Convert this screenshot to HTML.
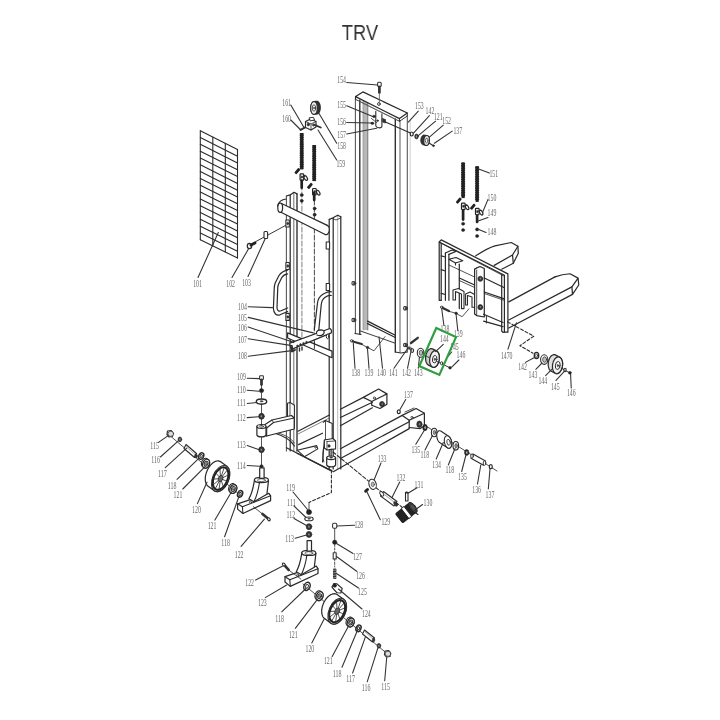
<!DOCTYPE html>
<html><head><meta charset="utf-8"><style>
html,body{margin:0;padding:0;background:#fff;}
body{width:720px;height:720px;overflow:hidden;position:relative;}
.t{position:absolute;left:0;top:21.4px;width:720px;text-align:center;font-family:"Liberation Sans",sans-serif;font-size:21.6px;line-height:24px;color:#333;transform:scaleX(0.845);transform-origin:360px 0;will-change:transform;}
svg{position:absolute;left:0;top:0;will-change:transform;}
svg text{font-family:"Liberation Serif",serif;font-size:10px;fill:#666;}
</style></head><body>
<div class="t">TRV</div>
<svg width="720" height="720" viewBox="0 0 720 720" stroke-linecap="round" stroke-linejoin="round">
<polyline points="200.3,130.7 237.5,149.5" fill="none" stroke="#2a2a2a" stroke-width="1.08"/>
<polyline points="200.3,137.5 237.5,156.3" fill="none" stroke="#2a2a2a" stroke-width="1.08"/>
<polyline points="200.3,144.3 237.5,163.1" fill="none" stroke="#2a2a2a" stroke-width="1.08"/>
<polyline points="200.3,151.2 237.5,169.8" fill="none" stroke="#2a2a2a" stroke-width="1.08"/>
<polyline points="200.3,158.0 237.5,176.6" fill="none" stroke="#2a2a2a" stroke-width="1.08"/>
<polyline points="200.3,164.8 237.5,183.4" fill="none" stroke="#2a2a2a" stroke-width="1.08"/>
<polyline points="200.3,171.6 237.5,190.2" fill="none" stroke="#2a2a2a" stroke-width="1.08"/>
<polyline points="200.3,178.4 237.5,197.0" fill="none" stroke="#2a2a2a" stroke-width="1.08"/>
<polyline points="200.3,185.2 237.5,203.8" fill="none" stroke="#2a2a2a" stroke-width="1.08"/>
<polyline points="200.3,192.1 237.5,210.5" fill="none" stroke="#2a2a2a" stroke-width="1.08"/>
<polyline points="200.3,198.9 237.5,217.3" fill="none" stroke="#2a2a2a" stroke-width="1.08"/>
<polyline points="200.3,205.7 237.5,224.1" fill="none" stroke="#2a2a2a" stroke-width="1.08"/>
<polyline points="200.3,212.5 237.5,230.9" fill="none" stroke="#2a2a2a" stroke-width="1.08"/>
<polyline points="200.3,219.3 237.5,237.7" fill="none" stroke="#2a2a2a" stroke-width="1.08"/>
<polyline points="200.3,226.2 237.5,244.4" fill="none" stroke="#2a2a2a" stroke-width="1.08"/>
<polyline points="200.3,233.0 237.5,251.2" fill="none" stroke="#2a2a2a" stroke-width="1.08"/>
<polyline points="200.3,239.8 237.5,258.0" fill="none" stroke="#2a2a2a" stroke-width="1.08"/>
<polyline points="200.3,130.7 200.3,239.8" fill="none" stroke="#2a2a2a" stroke-width="1.08"/>
<polyline points="212.8,137.0 212.8,245.9" fill="none" stroke="#2a2a2a" stroke-width="1.08"/>
<polyline points="225.3,143.3 225.3,252.0" fill="none" stroke="#2a2a2a" stroke-width="1.08"/>
<polyline points="237.5,149.5 237.5,258.0" fill="none" stroke="#2a2a2a" stroke-width="1.08"/>
<text x="193.2" y="287.1" textLength="8.7" lengthAdjust="spacingAndGlyphs">101</text>
<polyline points="198.0,277.5 218.3,232.5" fill="none" stroke="#333" stroke-width="1.08"/>
<text x="226.3" y="287.4" textLength="8.7" lengthAdjust="spacingAndGlyphs">102</text>
<polyline points="232.0,277.5 249.0,248.0" fill="none" stroke="#333" stroke-width="1.08"/>
<text x="242.2" y="286.4" textLength="8.7" lengthAdjust="spacingAndGlyphs">103</text>
<polyline points="248.0,276.5 265.5,238.0" fill="none" stroke="#333" stroke-width="1.08"/>
<polyline points="252.8,243.2 287.5,224.4" fill="none" stroke="#2a2a2a" stroke-width="0.94"/>
<ellipse cx="249.5" cy="246" rx="2.2" ry="2.6" fill="#fff" stroke="#2a2a2a" stroke-width="1.22"/>
<polyline points="251.0,245.0 255.0,243.0" fill="none" stroke="#222" stroke-width="2.97"/>
<rect x="264" y="231.5" width="3.6" height="7" rx="1" fill="#fff" stroke="#2a2a2a" stroke-width="1.08"/>
<polyline points="286.4,196.0 286.4,451.0" fill="none" stroke="#555" stroke-width="1.08"/>
<polyline points="290.2,195.0 290.2,451.0" fill="none" stroke="#2a2a2a" stroke-width="1.22"/>
<polyline points="293.8,193.5 293.8,451.0" fill="none" stroke="#777" stroke-width="1.08"/>
<polyline points="297.0,194.0 297.0,451.0" fill="none" stroke="#2a2a2a" stroke-width="1.35"/>
<polyline points="286.4,196.0 290.2,194.9 294.0,192.3 297.0,193.9" fill="none" stroke="#2a2a2a" stroke-width="1.22"/>
<polyline points="329.2,219.4 329.2,469.0" fill="none" stroke="#2a2a2a" stroke-width="1.22"/>
<polyline points="333.2,218.5 333.2,469.0" fill="none" stroke="#2a2a2a" stroke-width="1.22"/>
<polyline points="337.7,215.5 337.7,469.0" fill="none" stroke="#aaa" stroke-width="0.81"/>
<polyline points="340.8,216.8 340.8,469.0" fill="none" stroke="#2a2a2a" stroke-width="1.22"/>
<polyline points="329.4,219.4 333.0,217.8 337.7,215.2 340.8,216.8" fill="none" stroke="#2a2a2a" stroke-width="1.22"/>
<polyline points="332.4,218.5 336.0,220.0 340.8,218.0" fill="none" stroke="#2a2a2a" stroke-width="0.81"/>
<polyline points="301.9,185.0 301.9,340.0" fill="none" stroke="#888" stroke-width="1.08" stroke-dasharray="5,2"/>
<polyline points="314.4,200.0 314.4,345.0" fill="none" stroke="#555" stroke-width="1.08" stroke-dasharray="5,2"/>
<path d="M282,203.75 L326.8,225.1 A3.2,4.8 0 0 1 325.2,234.5 L280.4,212 Z" fill="#fff" stroke="#2a2a2a" stroke-width="0.00"/>
<polyline points="282.0,203.8 326.8,225.1" fill="none" stroke="#2a2a2a" stroke-width="1.22"/>
<polyline points="280.4,212.0 325.2,234.5" fill="none" stroke="#2a2a2a" stroke-width="1.22"/>
<path d="M326.8,225.1 A3.2,4.8 0 0 1 325.2,234.5" fill="none" stroke="#2a2a2a" stroke-width="1.22"/>
<ellipse cx="280.2" cy="207.8" rx="2.4" ry="4.6" fill="#fff" stroke="#2a2a2a" stroke-width="1.22"/>
<path d="M277.5,206 C278.5,202 282,199.5 286.1,199" fill="none" stroke="#2a2a2a" stroke-width="1.08"/>
<rect x="285.9" y="220.0" width="3.4" height="7" fill="#fff" stroke="#2a2a2a" stroke-width="1.08"/>
<ellipse cx="287.7" cy="223.5" rx="0.9" ry="1.2" fill="#444" stroke="#2a2a2a" stroke-width="0.68"/>
<rect x="285.9" y="262.5" width="3.4" height="7" fill="#fff" stroke="#2a2a2a" stroke-width="1.08"/>
<ellipse cx="287.7" cy="266" rx="0.9" ry="1.2" fill="#444" stroke="#2a2a2a" stroke-width="0.68"/>
<rect x="285.9" y="313.4" width="3.4" height="7" fill="#fff" stroke="#2a2a2a" stroke-width="1.08"/>
<ellipse cx="287.7" cy="316.9" rx="0.9" ry="1.2" fill="#444" stroke="#2a2a2a" stroke-width="0.68"/>
<rect x="326.2" y="242.0" width="3.4" height="7" fill="#fff" stroke="#2a2a2a" stroke-width="1.08"/>
<rect x="326.2" y="283.5" width="3.4" height="7" fill="#fff" stroke="#2a2a2a" stroke-width="1.08"/>
<path d="M287.6,270.2 C284,270.8 281,272.5 279,275.5 L275.2,283 C274.5,285 274.2,287 274.2,289 L273.4,308.5 C273.6,313.5 276.5,316 280,314.8 L287.6,311.5" fill="none" stroke="#2a2a2a" stroke-width="1.22"/>
<path d="M287.6,273.8 C285,274.2 283,275.5 281.8,277.5 L278.4,284.5 C277.9,286 277.7,287.5 277.7,289 L277,308 C277.2,310.5 278.8,311.6 281,310.8 L287.6,308" fill="none" stroke="#2a2a2a" stroke-width="1.22"/>
<path d="M331.3,291.8 C329,291 325,293 322.5,294.5 C319.5,296.5 318,299 317.5,303 L314.3,329.5" fill="none" stroke="#2a2a2a" stroke-width="1.22"/>
<path d="M331.3,295.5 C329,295 326.5,296.3 324.8,297.5 C322.8,299 321.5,301.5 321.2,305 L318.8,330" fill="none" stroke="#2a2a2a" stroke-width="1.22"/>
<path d="M287.6,332.9 L332,351.1 L332,357.7 L287.6,338 Z" fill="#fff" stroke="#2a2a2a" stroke-width="1.22"/>
<polyline points="314.4,342.0 314.4,348.5" fill="none" stroke="#2a2a2a" stroke-width="0.94"/>
<path d="M289.8,343.1 L329.9,328.5 C331.5,329.5 331.8,331.5 331.3,332.9 L292.7,348.9 C291,348.5 289.5,346 289.8,343.1 Z" fill="#fff" stroke="#2a2a2a" stroke-width="1.15"/>
<path d="M316.5,333.5 C316,331 318.5,329.8 321,329.8 C324,330 325,332 323.5,334 C322,335.5 319,336 317,335" fill="#fff" stroke="#2a2a2a" stroke-width="1.22"/>
<ellipse cx="327.6" cy="336.5" rx="1.3" ry="2.2" fill="#fff" stroke="#2a2a2a" stroke-width="0.94"/>
<ellipse cx="297.5" cy="345.8" rx="0.9" ry="0.9" fill="#333" stroke="#2a2a2a" stroke-width="0.54"/>
<ellipse cx="300.5" cy="344.5" rx="0.9" ry="0.9" fill="#333" stroke="#2a2a2a" stroke-width="0.54"/>
<ellipse cx="303.5" cy="343.3" rx="0.9" ry="0.9" fill="#333" stroke="#2a2a2a" stroke-width="0.54"/>
<ellipse cx="306.5" cy="342.2" rx="0.9" ry="0.9" fill="#333" stroke="#2a2a2a" stroke-width="0.54"/>
<polyline points="292.0,346.5 292.0,351.5 295.0,350.0" fill="none" stroke="#2a2a2a" stroke-width="1.89"/>
<polyline points="299.5,348.0 299.5,351.0" fill="none" stroke="#2a2a2a" stroke-width="1.35"/>
<polyline points="302.0,347.0 302.0,350.0" fill="none" stroke="#2a2a2a" stroke-width="1.35"/>
<text x="238.1" y="310.1" textLength="8.7" lengthAdjust="spacingAndGlyphs">104</text>
<polyline points="248.2,306.7 272.5,307.6" fill="none" stroke="#333" stroke-width="1.08"/>
<text x="238.1" y="320.8" textLength="8.7" lengthAdjust="spacingAndGlyphs">105</text>
<polyline points="248.2,317.4 313.3,332.9" fill="none" stroke="#333" stroke-width="1.08"/>
<text x="238.1" y="331.4" textLength="8.7" lengthAdjust="spacingAndGlyphs">106</text>
<polyline points="248.2,327.0 293.9,342.6" fill="none" stroke="#333" stroke-width="1.08"/>
<text x="238.1" y="343.1" textLength="8.7" lengthAdjust="spacingAndGlyphs">107</text>
<polyline points="248.2,338.7 292.0,345.6" fill="none" stroke="#333" stroke-width="1.08"/>
<text x="238.1" y="358.7" textLength="8.7" lengthAdjust="spacingAndGlyphs">108</text>
<polyline points="248.2,356.2 293.9,350.4" fill="none" stroke="#333" stroke-width="1.08"/>
<rect x="300.2" y="133" width="3.1" height="36.400000000000006" fill="#1e1e1e"/>
<ellipse cx="301.7" cy="133.9" rx="2.2" ry="0.95" fill="#222" stroke="#222" stroke-width="0.00"/>
<ellipse cx="301.7" cy="135.70000000000002" rx="2.2" ry="0.95" fill="#222" stroke="#222" stroke-width="0.00"/>
<ellipse cx="301.7" cy="137.50000000000003" rx="2.2" ry="0.95" fill="#222" stroke="#222" stroke-width="0.00"/>
<ellipse cx="301.7" cy="139.30000000000004" rx="2.2" ry="0.95" fill="#222" stroke="#222" stroke-width="0.00"/>
<ellipse cx="301.7" cy="141.10000000000005" rx="2.2" ry="0.95" fill="#222" stroke="#222" stroke-width="0.00"/>
<ellipse cx="301.7" cy="142.90000000000006" rx="2.2" ry="0.95" fill="#222" stroke="#222" stroke-width="0.00"/>
<ellipse cx="301.7" cy="144.70000000000007" rx="2.2" ry="0.95" fill="#222" stroke="#222" stroke-width="0.00"/>
<ellipse cx="301.7" cy="146.50000000000009" rx="2.2" ry="0.95" fill="#222" stroke="#222" stroke-width="0.00"/>
<ellipse cx="301.7" cy="148.3000000000001" rx="2.2" ry="0.95" fill="#222" stroke="#222" stroke-width="0.00"/>
<ellipse cx="301.7" cy="150.1000000000001" rx="2.2" ry="0.95" fill="#222" stroke="#222" stroke-width="0.00"/>
<ellipse cx="301.7" cy="151.90000000000012" rx="2.2" ry="0.95" fill="#222" stroke="#222" stroke-width="0.00"/>
<ellipse cx="301.7" cy="153.70000000000013" rx="2.2" ry="0.95" fill="#222" stroke="#222" stroke-width="0.00"/>
<ellipse cx="301.7" cy="155.50000000000014" rx="2.2" ry="0.95" fill="#222" stroke="#222" stroke-width="0.00"/>
<ellipse cx="301.7" cy="157.30000000000015" rx="2.2" ry="0.95" fill="#222" stroke="#222" stroke-width="0.00"/>
<ellipse cx="301.7" cy="159.10000000000016" rx="2.2" ry="0.95" fill="#222" stroke="#222" stroke-width="0.00"/>
<ellipse cx="301.7" cy="160.90000000000018" rx="2.2" ry="0.95" fill="#222" stroke="#222" stroke-width="0.00"/>
<ellipse cx="301.7" cy="162.7000000000002" rx="2.2" ry="0.95" fill="#222" stroke="#222" stroke-width="0.00"/>
<ellipse cx="301.7" cy="164.5000000000002" rx="2.2" ry="0.95" fill="#222" stroke="#222" stroke-width="0.00"/>
<ellipse cx="301.7" cy="166.3000000000002" rx="2.2" ry="0.95" fill="#222" stroke="#222" stroke-width="0.00"/>
<ellipse cx="301.7" cy="168.10000000000022" rx="2.2" ry="0.95" fill="#222" stroke="#222" stroke-width="0.00"/>
<rect x="312.7" y="145" width="3.1" height="36.099999999999994" fill="#1e1e1e"/>
<ellipse cx="314.2" cy="145.9" rx="2.2" ry="0.95" fill="#222" stroke="#222" stroke-width="0.00"/>
<ellipse cx="314.2" cy="147.70000000000002" rx="2.2" ry="0.95" fill="#222" stroke="#222" stroke-width="0.00"/>
<ellipse cx="314.2" cy="149.50000000000003" rx="2.2" ry="0.95" fill="#222" stroke="#222" stroke-width="0.00"/>
<ellipse cx="314.2" cy="151.30000000000004" rx="2.2" ry="0.95" fill="#222" stroke="#222" stroke-width="0.00"/>
<ellipse cx="314.2" cy="153.10000000000005" rx="2.2" ry="0.95" fill="#222" stroke="#222" stroke-width="0.00"/>
<ellipse cx="314.2" cy="154.90000000000006" rx="2.2" ry="0.95" fill="#222" stroke="#222" stroke-width="0.00"/>
<ellipse cx="314.2" cy="156.70000000000007" rx="2.2" ry="0.95" fill="#222" stroke="#222" stroke-width="0.00"/>
<ellipse cx="314.2" cy="158.50000000000009" rx="2.2" ry="0.95" fill="#222" stroke="#222" stroke-width="0.00"/>
<ellipse cx="314.2" cy="160.3000000000001" rx="2.2" ry="0.95" fill="#222" stroke="#222" stroke-width="0.00"/>
<ellipse cx="314.2" cy="162.1000000000001" rx="2.2" ry="0.95" fill="#222" stroke="#222" stroke-width="0.00"/>
<ellipse cx="314.2" cy="163.90000000000012" rx="2.2" ry="0.95" fill="#222" stroke="#222" stroke-width="0.00"/>
<ellipse cx="314.2" cy="165.70000000000013" rx="2.2" ry="0.95" fill="#222" stroke="#222" stroke-width="0.00"/>
<ellipse cx="314.2" cy="167.50000000000014" rx="2.2" ry="0.95" fill="#222" stroke="#222" stroke-width="0.00"/>
<ellipse cx="314.2" cy="169.30000000000015" rx="2.2" ry="0.95" fill="#222" stroke="#222" stroke-width="0.00"/>
<ellipse cx="314.2" cy="171.10000000000016" rx="2.2" ry="0.95" fill="#222" stroke="#222" stroke-width="0.00"/>
<ellipse cx="314.2" cy="172.90000000000018" rx="2.2" ry="0.95" fill="#222" stroke="#222" stroke-width="0.00"/>
<ellipse cx="314.2" cy="174.7000000000002" rx="2.2" ry="0.95" fill="#222" stroke="#222" stroke-width="0.00"/>
<ellipse cx="314.2" cy="176.5000000000002" rx="2.2" ry="0.95" fill="#222" stroke="#222" stroke-width="0.00"/>
<ellipse cx="314.2" cy="178.3000000000002" rx="2.2" ry="0.95" fill="#222" stroke="#222" stroke-width="0.00"/>
<ellipse cx="314.2" cy="180.10000000000022" rx="2.2" ry="0.95" fill="#222" stroke="#222" stroke-width="0.00"/>
<g transform="translate(297.4,171.1) rotate(-50)"><rect x="-3.2" y="-1.4" width="6.4" height="2.8" rx="0.8" fill="#222"/></g>
<rect x="300.1" y="173.8" width="3.6" height="6.5" rx="0.8" fill="#fff" stroke="#222" stroke-width="1.22"/>
<ellipse cx="301.9" cy="177.0" rx="0.8" ry="1.3" fill="#333" stroke="#2a2a2a" stroke-width="0.41"/>
<ellipse cx="305.7" cy="178.0" rx="1.4" ry="2.6" fill="#fff" stroke="#2a2a2a" stroke-width="1.22" transform="rotate(-30 305.7 178.0)"/>
<polyline points="303.7,176.3 305.2,175.8" fill="none" stroke="#2a2a2a" stroke-width="1.22"/>
<polyline points="301.7,180.6 301.7,187.8" fill="none" stroke="#222" stroke-width="2.70"/>
<g transform="translate(309.9,185.9) rotate(-50)"><rect x="-3.2" y="-1.4" width="6.4" height="2.8" rx="0.8" fill="#222"/></g>
<rect x="312.6" y="188.5" width="3.6" height="6.5" rx="0.8" fill="#fff" stroke="#222" stroke-width="1.22"/>
<ellipse cx="314.4" cy="191.7" rx="0.8" ry="1.3" fill="#333" stroke="#2a2a2a" stroke-width="0.41"/>
<ellipse cx="318.2" cy="192.7" rx="1.4" ry="2.6" fill="#fff" stroke="#2a2a2a" stroke-width="1.22" transform="rotate(-30 318.2 192.7)"/>
<polyline points="316.2,191.0 317.7,190.5" fill="none" stroke="#2a2a2a" stroke-width="1.22"/>
<polyline points="314.2,193.1 314.2,200.1" fill="none" stroke="#222" stroke-width="2.70"/>
<ellipse cx="301.7" cy="195" rx="1.6" ry="1.6" fill="#222" stroke="#2a2a2a" stroke-width="0.41"/>
<ellipse cx="301.7" cy="200.8" rx="1.6" ry="1.6" fill="#222" stroke="#2a2a2a" stroke-width="0.41"/>
<ellipse cx="314.6" cy="208.5" rx="1.6" ry="1.6" fill="#222" stroke="#2a2a2a" stroke-width="0.41"/>
<ellipse cx="314.6" cy="214.7" rx="1.6" ry="1.6" fill="#222" stroke="#2a2a2a" stroke-width="0.41"/>
<text x="282.3" y="105.9" textLength="8.7" lengthAdjust="spacingAndGlyphs">161</text>
<polyline points="290.8,105.0 304.0,127.5" fill="none" stroke="#333" stroke-width="1.08"/>
<text x="282.3" y="122.4" textLength="8.7" lengthAdjust="spacingAndGlyphs">160</text>
<polyline points="290.8,120.0 300.8,130.0" fill="none" stroke="#333" stroke-width="1.08"/>
<text x="337.3" y="149.2" textLength="8.7" lengthAdjust="spacingAndGlyphs">158</text>
<polyline points="336.7,143.3 318.0,111.7" fill="none" stroke="#333" stroke-width="1.08"/>
<text x="336.4" y="167.4" textLength="8.7" lengthAdjust="spacingAndGlyphs">159</text>
<polyline points="336.7,160.0 318.0,130.0" fill="none" stroke="#333" stroke-width="1.08"/>
<polygon points="310.7,108.0 310.7,107.5 310.8,106.9 310.8,106.4 310.9,105.8 311.0,105.3 311.1,104.8 311.3,104.4 311.5,104.0 311.7,103.5 311.9,103.2 312.1,102.8 312.4,102.5 312.6,102.3 312.9,102.1 313.1,101.9 313.4,101.8 313.7,101.7 316.6,101.3 316.9,101.3 317.2,101.3 317.5,101.4 317.8,101.5 318.0,101.7 318.3,101.9 318.5,102.1 318.8,102.4 319.0,102.8 319.2,103.1 319.4,103.6 319.6,104.0 319.8,104.5 319.9,104.9 320.0,105.4 320.1,106.0 320.1,106.5 320.2,107.1 320.2,107.6 320.2,108.1 320.1,108.7 320.1,109.2 320.0,109.8 319.9,110.3 319.8,110.8 319.6,111.2 319.4,111.6 319.2,112.1 319.0,112.4 318.8,112.8 318.5,113.1 318.3,113.3 318.0,113.5 317.8,113.7 317.5,113.8 317.2,113.9 314.3,114.3 314.0,114.3 313.7,114.3 313.4,114.2 313.1,114.1 312.9,113.9 312.6,113.7 312.4,113.5 312.1,113.2 311.9,112.8 311.7,112.5 311.5,112.0 311.3,111.6 311.1,111.2 311.0,110.7 310.9,110.2 310.8,109.6 310.8,109.1 310.7,108.5" fill="#333" stroke="#2a2a2a" stroke-width="1.22"/>
<ellipse cx="314" cy="108" rx="3.3" ry="6.3" fill="#f0f0f0" stroke="#2a2a2a" stroke-width="1.08"/>
<ellipse cx="314" cy="108" rx="1.7" ry="3.2" fill="#fff" stroke="#2a2a2a" stroke-width="0.81"/>
<ellipse cx="314" cy="108" rx="0.6" ry="1.0" fill="#888" stroke="#2a2a2a" stroke-width="0.41"/>
<path d="M305.5,121.5 L310.5,119 L316,121.5 L316,127 L311,130 L305.5,127.5 Z" fill="#fff" stroke="#2a2a2a" stroke-width="1.15"/>
<path d="M305.5,121.5 L311,124 L316,121.5 M311,124 L311,130" fill="none" stroke="#2a2a2a" stroke-width="0.81"/>
<path d="M309.5,117.8 L313.5,117.3 L314.5,120 L310.5,120.8 Z" fill="#fff" stroke="#2a2a2a" stroke-width="0.94"/>
<ellipse cx="308.3" cy="124.5" rx="1.3" ry="1.6" fill="#333" stroke="#2a2a2a" stroke-width="0.41"/>
<ellipse cx="313.5" cy="125" rx="1.1" ry="1.3" fill="#555" stroke="#2a2a2a" stroke-width="0.41"/>
<polyline points="314.5,124.8 320.8,127.5" fill="none" stroke="#333" stroke-width="1.89"/>
<polyline points="300.5,129.8 305.2,127.3" fill="none" stroke="#333" stroke-width="1.89"/>
<polyline points="355.4,97.0 355.4,333.5" fill="none" stroke="#555" stroke-width="1.08"/>
<polyline points="359.8,100.0 359.8,334.0" fill="none" stroke="#2a2a2a" stroke-width="1.35"/>
<rect x="363" y="101" width="5" height="229" fill="#b8b8b8"/>
<polyline points="363.0,101.0 363.0,330.0" fill="none" stroke="#888" stroke-width="0.68"/>
<polyline points="367.8,101.0 367.8,330.0" fill="none" stroke="#777" stroke-width="0.94"/>
<polyline points="355.0,333.5 361.0,334.5" fill="none" stroke="#2a2a2a" stroke-width="1.22"/>
<polyline points="395.3,119.0 395.3,352.0" fill="none" stroke="#2a2a2a" stroke-width="1.35"/>
<polyline points="400.0,120.7 400.0,352.0" fill="none" stroke="#666" stroke-width="1.08"/>
<polyline points="407.3,115.6 407.3,352.0" fill="none" stroke="#555" stroke-width="1.08"/>
<polyline points="410.2,120.0 410.2,350.0" fill="none" stroke="#bbb" stroke-width="0.68"/>
<polyline points="395.3,352.0 401.0,353.0 407.0,352.0" fill="none" stroke="#2a2a2a" stroke-width="1.22"/>
<path d="M355.6,96.6 L362.9,91.9 L407.3,113 L399.5,118.6 Z" fill="#fff" stroke="#2a2a2a" stroke-width="1.22"/>
<polyline points="355.6,96.6 355.6,99.4 399.5,121.3 407.3,116.0 407.3,113.0" fill="none" stroke="#2a2a2a" stroke-width="0.94"/>
<polyline points="399.5,118.6 399.5,121.3" fill="none" stroke="#2a2a2a" stroke-width="0.94"/>
<polyline points="359.5,101.3 395.5,119.3" fill="none" stroke="#777" stroke-width="0.68"/>
<ellipse cx="378.9" cy="104" rx="1.3" ry="1.5" fill="#fff" stroke="#2a2a2a" stroke-width="0.94"/>
<polyline points="367.6,321.1 395.3,335.3" fill="none" stroke="#2a2a2a" stroke-width="1.22"/>
<polyline points="367.6,323.6 395.3,337.5" fill="none" stroke="#2a2a2a" stroke-width="1.22"/>
<polyline points="360.5,331.0 395.3,343.2" fill="none" stroke="#444" stroke-width="1.08"/>
<ellipse cx="353.3" cy="283.3" rx="1.4" ry="1.8" fill="#fff" stroke="#2a2a2a" stroke-width="1.08"/>
<ellipse cx="354.7" cy="283.3" rx="1.2" ry="1.6" fill="#444" stroke="#2a2a2a" stroke-width="0.54"/>
<ellipse cx="353.3" cy="320" rx="1.4" ry="1.8" fill="#fff" stroke="#2a2a2a" stroke-width="1.08"/>
<ellipse cx="354.7" cy="320" rx="1.2" ry="1.6" fill="#444" stroke="#2a2a2a" stroke-width="0.54"/>
<ellipse cx="405" cy="308.3" rx="1.4" ry="1.8" fill="#fff" stroke="#2a2a2a" stroke-width="1.08"/>
<ellipse cx="406.4" cy="308.3" rx="1.2" ry="1.6" fill="#444" stroke="#2a2a2a" stroke-width="0.54"/>
<ellipse cx="405" cy="345" rx="1.4" ry="1.8" fill="#fff" stroke="#2a2a2a" stroke-width="1.08"/>
<ellipse cx="406.4" cy="345" rx="1.2" ry="1.6" fill="#444" stroke="#2a2a2a" stroke-width="0.54"/>
<text x="337.3" y="83.4" textLength="8.7" lengthAdjust="spacingAndGlyphs">154</text>
<polyline points="346.7,82.5 377.5,85.0" fill="none" stroke="#333" stroke-width="1.08"/>
<rect x="377.6" y="82.3" width="3.6" height="4.2" rx="1" fill="#fff" stroke="#333" stroke-width="1.08"/>
<polyline points="379.4,86.8 379.4,92.5" fill="none" stroke="#333" stroke-width="2.70"/>
<polyline points="379.4,93.5 379.4,102.0" fill="none" stroke="#555" stroke-width="0.81"/>
<text x="337.3" y="108.4" textLength="8.7" lengthAdjust="spacingAndGlyphs">155</text>
<polyline points="346.7,105.8 373.3,116.7" fill="none" stroke="#333" stroke-width="1.08"/>
<text x="337.3" y="125.1" textLength="8.7" lengthAdjust="spacingAndGlyphs">156</text>
<polyline points="346.7,122.5 371.7,123.0" fill="none" stroke="#333" stroke-width="1.08"/>
<text x="337.3" y="138.4" textLength="8.7" lengthAdjust="spacingAndGlyphs">157</text>
<polyline points="346.7,134.0 376.7,128.3" fill="none" stroke="#333" stroke-width="1.08"/>
<path d="M375.8,111.3 L375.8,125.9 C376.5,128 381,128.5 381.9,126.8 L381.9,113.8" fill="#fff" stroke="#2a2a2a" stroke-width="1.08"/>
<ellipse cx="374.1" cy="116.4" rx="1.5" ry="1.2" fill="#222" stroke="#2a2a2a" stroke-width="0.41"/>
<ellipse cx="372.4" cy="123.3" rx="1.5" ry="1.2" fill="#222" stroke="#2a2a2a" stroke-width="0.41"/>
<ellipse cx="377.6" cy="120.7" rx="0.9" ry="0.9" fill="#333" stroke="#2a2a2a" stroke-width="0.41"/>
<polyline points="371.5,118.5 376.5,122.5" fill="none" stroke="#2a2a2a" stroke-width="0.81"/>
<path d="M382.5,118.5 L385.5,119.5 L385.5,123 L382.5,122 Z" fill="#333" stroke="#2a2a2a" stroke-width="0.68"/>
<polyline points="385.5,122.0 411.5,133.5" fill="none" stroke="#2a2a2a" stroke-width="1.08"/>
<text x="415.0" y="109.0" textLength="8.7" lengthAdjust="spacingAndGlyphs">153</text>
<polyline points="418.3,111.2 408.3,122.2" fill="none" stroke="#333" stroke-width="1.08"/>
<text x="425.6" y="114.0" textLength="8.7" lengthAdjust="spacingAndGlyphs">142</text>
<polyline points="429.4,115.6 413.3,133.3" fill="none" stroke="#333" stroke-width="1.08"/>
<text x="433.9" y="120.1" textLength="8.7" lengthAdjust="spacingAndGlyphs">121</text>
<polyline points="435.6,121.2 418.3,135.6" fill="none" stroke="#333" stroke-width="1.08"/>
<text x="442.3" y="124.0" textLength="8.7" lengthAdjust="spacingAndGlyphs">152</text>
<polyline points="443.3,125.2 429.4,137.2" fill="none" stroke="#333" stroke-width="1.08"/>
<ellipse cx="411.7" cy="134" rx="1.5" ry="2.0" fill="#fff" stroke="#2a2a2a" stroke-width="1.22"/>
<ellipse cx="416.5" cy="136.5" rx="1.8" ry="2.4" fill="#333" stroke="#2a2a2a" stroke-width="0.68"/>
<ellipse cx="416.5" cy="136.5" rx="0.8" ry="1.2" fill="#ccc" stroke="#2a2a2a" stroke-width="0.41"/>
<polygon points="420.8,140.5 420.8,140.1 420.8,139.7 420.9,139.2 420.9,138.8 421.0,138.4 421.1,138.0 421.3,137.6 421.4,137.2 421.6,136.8 421.7,136.5 421.9,136.2 422.1,135.9 422.4,135.7 422.6,135.5 422.8,135.3 423.1,135.1 423.3,135.0 423.5,135.0 423.8,134.9 424.0,134.9 424.3,135.0 427.3,135.6 427.5,135.6 427.7,135.8 428.0,135.9 428.2,136.1 428.4,136.3 428.6,136.6 428.7,136.8 428.9,137.2 429.0,137.5 429.1,137.8 429.2,138.2 429.3,138.6 429.4,139.0 429.4,139.4 429.4,139.9 429.4,140.3 429.4,140.7 429.3,141.2 429.3,141.6 429.2,142.0 429.1,142.4 428.9,142.8 428.8,143.2 428.6,143.6 428.5,143.9 428.3,144.2 428.1,144.5 427.8,144.7 427.6,144.9 427.4,145.1 427.1,145.3 426.9,145.4 426.7,145.4 426.4,145.5 426.2,145.5 425.9,145.4 422.9,144.8 422.7,144.8 422.5,144.6 422.2,144.5 422.0,144.3 421.8,144.1 421.6,143.8 421.5,143.6 421.3,143.2 421.2,142.9 421.1,142.6 421.0,142.2 420.9,141.8 420.8,141.4 420.8,141.0" fill="#333" stroke="#2a2a2a" stroke-width="0.81"/>
<ellipse cx="426.6" cy="140.5" rx="2.8" ry="5.0" fill="#ddd" stroke="#2a2a2a" stroke-width="1.08" transform="rotate(5 426.6 140.5)"/>
<ellipse cx="426.7" cy="140.6" rx="1.3" ry="2.3" fill="#fff" stroke="#2a2a2a" stroke-width="0.68" transform="rotate(5 426.7 140.6)"/>
<polyline points="429.0,143.0 433.0,145.5" fill="none" stroke="#2a2a2a" stroke-width="1.08"/>
<ellipse cx="433.5" cy="145.7" rx="1.0" ry="1.0" fill="#222" stroke="#2a2a2a" stroke-width="0.41"/>
<text x="453.4" y="134.0" textLength="8.7" lengthAdjust="spacingAndGlyphs">137</text>
<polyline points="452.2,131.1 434.4,143.3" fill="none" stroke="#333" stroke-width="1.08"/>
<path d="M439.2,242 L441.25,239.9 L507.9,273.9 L507.9,332.2 L504.4,332.2 L504.4,275.3 L439.2,242 Z" fill="#fff" stroke="#2a2a2a" stroke-width="1.22"/>
<polyline points="439.2,242.0 439.2,300.3 441.2,300.3" fill="none" stroke="#2a2a2a" stroke-width="1.22"/>
<polyline points="441.2,243.3 441.2,300.3" fill="none" stroke="#2a2a2a" stroke-width="1.22"/>
<polyline points="441.2,243.3 504.4,276.3" fill="none" stroke="#2a2a2a" stroke-width="0.81"/>
<polyline points="445.4,253.0 445.4,300.3" fill="none" stroke="#2a2a2a" stroke-width="1.22"/>
<polyline points="448.9,254.4 448.9,300.3" fill="none" stroke="#2a2a2a" stroke-width="1.22"/>
<polyline points="445.4,253.0 452.0,250.0 455.8,251.5 448.9,254.4" fill="none" stroke="#2a2a2a" stroke-width="1.22"/>
<polyline points="441.2,255.8 445.4,257.0" fill="none" stroke="#2a2a2a" stroke-width="1.22"/>
<polyline points="441.2,269.7 445.4,271.0" fill="none" stroke="#2a2a2a" stroke-width="1.22"/>
<polyline points="441.2,293.3 445.4,294.5" fill="none" stroke="#2a2a2a" stroke-width="1.22"/>
<path d="M448.9,259.3 L456,257.5 L462.8,260.8 L455.5,263 Z" fill="#fff" stroke="#2a2a2a" stroke-width="1.08"/>
<polyline points="455.5,263.0 455.5,265.0" fill="none" stroke="#2a2a2a" stroke-width="1.08"/>
<polyline points="459.3,264.2 459.3,308.6" fill="none" stroke="#2a2a2a" stroke-width="1.22"/>
<polyline points="459.3,278.0 474.6,285.0" fill="none" stroke="#2a2a2a" stroke-width="1.22"/>
<polyline points="459.3,280.5 474.6,287.5" fill="none" stroke="#2a2a2a" stroke-width="0.81"/>
<polyline points="448.9,265.0 474.6,277.0" fill="none" stroke="#2a2a2a" stroke-width="0.81"/>
<path d="M453,290 L458.5,288.5 L464,291.5 L464,308.6 L461.5,308.6 L461.5,294 L455.5,291.5 L455.5,300 L453,300 Z" fill="#fff" stroke="#2a2a2a" stroke-width="1.08"/>
<path d="M465.6,294 L470,292 L474.6,294.5 L474.6,307.2 L472,307.2 L472,297 L467.5,295.5 L467.5,305 L465.6,305 Z" fill="#fff" stroke="#2a2a2a" stroke-width="1.08"/>
<path d="M474.6,269 L480,266.5 L484.3,268.5 L484.3,317 L476.7,315.6 L474.6,314 Z" fill="#fff" stroke="#2a2a2a" stroke-width="1.22"/>
<polyline points="476.7,270.0 476.7,315.6" fill="none" stroke="#2a2a2a" stroke-width="0.81"/>
<polyline points="475.3,269.0 478.0,267.0" fill="none" stroke="#2a2a2a" stroke-width="0.81"/>
<ellipse cx="480.3" cy="278.75" rx="2.4" ry="2.6" fill="#333" stroke="#2a2a2a" stroke-width="0.68"/>
<ellipse cx="480.6" cy="278.6" rx="1.0" ry="1.1" fill="#999" stroke="#2a2a2a" stroke-width="0.41"/>
<ellipse cx="480.3" cy="307.2" rx="2.4" ry="2.6" fill="#333" stroke="#2a2a2a" stroke-width="0.68"/>
<ellipse cx="480.6" cy="307.0" rx="1.0" ry="1.1" fill="#999" stroke="#2a2a2a" stroke-width="0.41"/>
<polyline points="484.3,278.0 504.4,287.8" fill="none" stroke="#2a2a2a" stroke-width="1.22"/>
<polyline points="484.3,292.0 504.4,298.9" fill="none" stroke="#2a2a2a" stroke-width="1.22"/>
<polyline points="484.3,293.5 504.4,300.4" fill="none" stroke="#2a2a2a" stroke-width="0.81"/>
<polyline points="483.6,314.2 503.0,322.5" fill="none" stroke="#2a2a2a" stroke-width="1.22"/>
<polyline points="483.6,321.1 503.0,326.7" fill="none" stroke="#2a2a2a" stroke-width="1.22"/>
<polyline points="486.4,316.0 486.4,323.0" fill="none" stroke="#2a2a2a" stroke-width="0.94"/>
<polyline points="501.7,274.5 501.7,331.0 503.0,332.4 504.4,332.2" fill="none" stroke="#2a2a2a" stroke-width="1.22"/>
<path d="M475.8,255.8 C483,251 489,247.5 495,245.8 L511.25,242.5 L517.9,246.25 L518.3,253.3 L513.3,263.3 L501.7,269.2" fill="none" stroke="#2a2a2a" stroke-width="1.22"/>
<polyline points="494.2,265.4 512.5,255.0 517.9,246.2" fill="none" stroke="#2a2a2a" stroke-width="1.22"/>
<polyline points="512.5,255.0 513.3,263.3" fill="none" stroke="#2a2a2a" stroke-width="1.22"/>
<polyline points="508.8,301.9 555.0,276.9" fill="none" stroke="#2a2a2a" stroke-width="1.22"/>
<path d="M555,276.9 C560,275 565,274 570,273.75 L578.1,278.1 L578.75,285 L572.5,294.4 M578.1,278.1 L571.9,286.9 L572.5,294.4" fill="none" stroke="#2a2a2a" stroke-width="1.22"/>
<polyline points="508.8,320.0 571.9,286.9" fill="none" stroke="#2a2a2a" stroke-width="1.22"/>
<polyline points="508.8,328.0 572.5,294.4" fill="none" stroke="#2a2a2a" stroke-width="1.22"/>
<polyline points="507.5,321.9 533.8,336.2 519.9,345.7 533.0,353.3" fill="none" stroke="#2a2a2a" stroke-width="1.08" stroke-dasharray="3,2"/>
<text x="500.9" y="358.8" textLength="11.5" lengthAdjust="spacingAndGlyphs">1470</text>
<polyline points="508.0,349.2 516.4,322.8" fill="none" stroke="#333" stroke-width="1.08"/>
<text x="440.6" y="331.7" textLength="8.7" lengthAdjust="spacingAndGlyphs">138</text>
<polyline points="443.9,325.5 441.7,308.5" fill="none" stroke="#333" stroke-width="1.08"/>
<text x="453.9" y="336.7" textLength="8.7" lengthAdjust="spacingAndGlyphs">139</text>
<polyline points="457.8,330.5 456.1,314.5" fill="none" stroke="#333" stroke-width="1.08"/>
<ellipse cx="441.7" cy="307.2" rx="1.3" ry="1.1" fill="#fff" stroke="#2a2a2a" stroke-width="0.94"/>
<polyline points="442.8,308.0 448.9,311.1" fill="none" stroke="#333" stroke-width="2.29"/>
<ellipse cx="456.1" cy="313.3" rx="1.3" ry="1.3" fill="#222" stroke="#2a2a2a" stroke-width="0.41"/>
<polyline points="449.0,311.3 455.0,313.0" fill="none" stroke="#2a2a2a" stroke-width="0.81"/>
<polyline points="457.0,314.0 462.2,316.7 468.9,308.9" fill="none" stroke="#2a2a2a" stroke-width="0.81"/>
<rect x="461.6" y="162.5" width="3.1" height="35.599999999999994" fill="#1e1e1e"/>
<ellipse cx="463.1" cy="163.4" rx="2.2" ry="0.95" fill="#222" stroke="#222" stroke-width="0.00"/>
<ellipse cx="463.1" cy="165.20000000000002" rx="2.2" ry="0.95" fill="#222" stroke="#222" stroke-width="0.00"/>
<ellipse cx="463.1" cy="167.00000000000003" rx="2.2" ry="0.95" fill="#222" stroke="#222" stroke-width="0.00"/>
<ellipse cx="463.1" cy="168.80000000000004" rx="2.2" ry="0.95" fill="#222" stroke="#222" stroke-width="0.00"/>
<ellipse cx="463.1" cy="170.60000000000005" rx="2.2" ry="0.95" fill="#222" stroke="#222" stroke-width="0.00"/>
<ellipse cx="463.1" cy="172.40000000000006" rx="2.2" ry="0.95" fill="#222" stroke="#222" stroke-width="0.00"/>
<ellipse cx="463.1" cy="174.20000000000007" rx="2.2" ry="0.95" fill="#222" stroke="#222" stroke-width="0.00"/>
<ellipse cx="463.1" cy="176.00000000000009" rx="2.2" ry="0.95" fill="#222" stroke="#222" stroke-width="0.00"/>
<ellipse cx="463.1" cy="177.8000000000001" rx="2.2" ry="0.95" fill="#222" stroke="#222" stroke-width="0.00"/>
<ellipse cx="463.1" cy="179.6000000000001" rx="2.2" ry="0.95" fill="#222" stroke="#222" stroke-width="0.00"/>
<ellipse cx="463.1" cy="181.40000000000012" rx="2.2" ry="0.95" fill="#222" stroke="#222" stroke-width="0.00"/>
<ellipse cx="463.1" cy="183.20000000000013" rx="2.2" ry="0.95" fill="#222" stroke="#222" stroke-width="0.00"/>
<ellipse cx="463.1" cy="185.00000000000014" rx="2.2" ry="0.95" fill="#222" stroke="#222" stroke-width="0.00"/>
<ellipse cx="463.1" cy="186.80000000000015" rx="2.2" ry="0.95" fill="#222" stroke="#222" stroke-width="0.00"/>
<ellipse cx="463.1" cy="188.60000000000016" rx="2.2" ry="0.95" fill="#222" stroke="#222" stroke-width="0.00"/>
<ellipse cx="463.1" cy="190.40000000000018" rx="2.2" ry="0.95" fill="#222" stroke="#222" stroke-width="0.00"/>
<ellipse cx="463.1" cy="192.2000000000002" rx="2.2" ry="0.95" fill="#222" stroke="#222" stroke-width="0.00"/>
<ellipse cx="463.1" cy="194.0000000000002" rx="2.2" ry="0.95" fill="#222" stroke="#222" stroke-width="0.00"/>
<ellipse cx="463.1" cy="195.8000000000002" rx="2.2" ry="0.95" fill="#222" stroke="#222" stroke-width="0.00"/>
<rect x="475.6" y="166.25" width="3.1" height="35.650000000000006" fill="#1e1e1e"/>
<ellipse cx="477.1" cy="167.15" rx="2.2" ry="0.95" fill="#222" stroke="#222" stroke-width="0.00"/>
<ellipse cx="477.1" cy="168.95000000000002" rx="2.2" ry="0.95" fill="#222" stroke="#222" stroke-width="0.00"/>
<ellipse cx="477.1" cy="170.75000000000003" rx="2.2" ry="0.95" fill="#222" stroke="#222" stroke-width="0.00"/>
<ellipse cx="477.1" cy="172.55000000000004" rx="2.2" ry="0.95" fill="#222" stroke="#222" stroke-width="0.00"/>
<ellipse cx="477.1" cy="174.35000000000005" rx="2.2" ry="0.95" fill="#222" stroke="#222" stroke-width="0.00"/>
<ellipse cx="477.1" cy="176.15000000000006" rx="2.2" ry="0.95" fill="#222" stroke="#222" stroke-width="0.00"/>
<ellipse cx="477.1" cy="177.95000000000007" rx="2.2" ry="0.95" fill="#222" stroke="#222" stroke-width="0.00"/>
<ellipse cx="477.1" cy="179.75000000000009" rx="2.2" ry="0.95" fill="#222" stroke="#222" stroke-width="0.00"/>
<ellipse cx="477.1" cy="181.5500000000001" rx="2.2" ry="0.95" fill="#222" stroke="#222" stroke-width="0.00"/>
<ellipse cx="477.1" cy="183.3500000000001" rx="2.2" ry="0.95" fill="#222" stroke="#222" stroke-width="0.00"/>
<ellipse cx="477.1" cy="185.15000000000012" rx="2.2" ry="0.95" fill="#222" stroke="#222" stroke-width="0.00"/>
<ellipse cx="477.1" cy="186.95000000000013" rx="2.2" ry="0.95" fill="#222" stroke="#222" stroke-width="0.00"/>
<ellipse cx="477.1" cy="188.75000000000014" rx="2.2" ry="0.95" fill="#222" stroke="#222" stroke-width="0.00"/>
<ellipse cx="477.1" cy="190.55000000000015" rx="2.2" ry="0.95" fill="#222" stroke="#222" stroke-width="0.00"/>
<ellipse cx="477.1" cy="192.35000000000016" rx="2.2" ry="0.95" fill="#222" stroke="#222" stroke-width="0.00"/>
<ellipse cx="477.1" cy="194.15000000000018" rx="2.2" ry="0.95" fill="#222" stroke="#222" stroke-width="0.00"/>
<ellipse cx="477.1" cy="195.9500000000002" rx="2.2" ry="0.95" fill="#222" stroke="#222" stroke-width="0.00"/>
<ellipse cx="477.1" cy="197.7500000000002" rx="2.2" ry="0.95" fill="#222" stroke="#222" stroke-width="0.00"/>
<ellipse cx="477.1" cy="199.5500000000002" rx="2.2" ry="0.95" fill="#222" stroke="#222" stroke-width="0.00"/>
<g transform="translate(458.8,200.6) rotate(-50)"><rect x="-3.2" y="-1.4" width="6.4" height="2.8" rx="0.8" fill="#222"/></g>
<rect x="461.5" y="203.1" width="3.6" height="6.5" rx="0.8" fill="#fff" stroke="#222" stroke-width="1.22"/>
<ellipse cx="463.3" cy="206.29999999999998" rx="0.8" ry="1.3" fill="#333" stroke="#2a2a2a" stroke-width="0.41"/>
<ellipse cx="467.1" cy="207.29999999999998" rx="1.4" ry="2.6" fill="#fff" stroke="#2a2a2a" stroke-width="1.22" transform="rotate(-30 467.1 207.29999999999998)"/>
<polyline points="465.1,205.6 466.6,205.1" fill="none" stroke="#2a2a2a" stroke-width="1.22"/>
<polyline points="463.1,210.1 463.1,219.6" fill="none" stroke="#222" stroke-width="2.70"/>
<g transform="translate(472.8,206.7) rotate(-50)"><rect x="-3.2" y="-1.4" width="6.4" height="2.8" rx="0.8" fill="#222"/></g>
<rect x="475.5" y="208.4" width="3.6" height="6.5" rx="0.8" fill="#fff" stroke="#222" stroke-width="1.22"/>
<ellipse cx="477.3" cy="211.6" rx="0.8" ry="1.3" fill="#333" stroke="#2a2a2a" stroke-width="0.41"/>
<ellipse cx="481.1" cy="212.6" rx="1.4" ry="2.6" fill="#fff" stroke="#2a2a2a" stroke-width="1.22" transform="rotate(-30 481.1 212.6)"/>
<polyline points="479.1,210.9 480.6,210.4" fill="none" stroke="#2a2a2a" stroke-width="1.22"/>
<polyline points="477.1,215.9 477.1,221.9" fill="none" stroke="#222" stroke-width="2.70"/>
<ellipse cx="463.1" cy="223.75" rx="1.6" ry="1.6" fill="#222" stroke="#2a2a2a" stroke-width="0.41"/>
<ellipse cx="463.1" cy="230" rx="1.6" ry="1.6" fill="#222" stroke="#2a2a2a" stroke-width="0.41"/>
<ellipse cx="477.1" cy="229.4" rx="1.6" ry="1.6" fill="#222" stroke="#2a2a2a" stroke-width="0.41"/>
<ellipse cx="477.1" cy="236" rx="1.6" ry="1.6" fill="#222" stroke="#2a2a2a" stroke-width="0.41"/>
<text x="489.4" y="177.2" textLength="8.7" lengthAdjust="spacingAndGlyphs">151</text>
<polyline points="489.4,173.0 478.0,168.8" fill="none" stroke="#333" stroke-width="1.08"/>
<text x="487.6" y="201.4" textLength="8.7" lengthAdjust="spacingAndGlyphs">150</text>
<polyline points="488.0,199.4 482.5,212.5" fill="none" stroke="#333" stroke-width="1.08"/>
<text x="487.6" y="216.4" textLength="8.7" lengthAdjust="spacingAndGlyphs">149</text>
<polyline points="488.0,217.5 478.0,221.0" fill="none" stroke="#333" stroke-width="1.08"/>
<text x="487.6" y="235.4" textLength="8.7" lengthAdjust="spacingAndGlyphs">148</text>
<polyline points="486.0,232.5 478.8,229.4" fill="none" stroke="#333" stroke-width="1.08"/>
<text x="351.4" y="375.9" textLength="8.7" lengthAdjust="spacingAndGlyphs">138</text>
<polyline points="355.0,368.3 353.3,343.3" fill="none" stroke="#333" stroke-width="1.08"/>
<text x="364.6" y="375.9" textLength="8.7" lengthAdjust="spacingAndGlyphs">139</text>
<polyline points="369.0,368.3 367.5,349.0" fill="none" stroke="#333" stroke-width="1.08"/>
<text x="377.3" y="375.9" textLength="8.7" lengthAdjust="spacingAndGlyphs">140</text>
<polyline points="382.5,368.3 379.0,336.7" fill="none" stroke="#333" stroke-width="1.08"/>
<text x="388.9" y="375.9" textLength="8.7" lengthAdjust="spacingAndGlyphs">141</text>
<polyline points="394.0,368.3 408.0,348.0" fill="none" stroke="#333" stroke-width="1.08"/>
<text x="402.3" y="375.9" textLength="8.7" lengthAdjust="spacingAndGlyphs">142</text>
<polyline points="407.5,368.3 411.7,348.0" fill="none" stroke="#333" stroke-width="1.08"/>
<text x="413.9" y="375.9" textLength="8.7" lengthAdjust="spacingAndGlyphs">143</text>
<polyline points="418.3,368.3 419.5,356.5" fill="none" stroke="#333" stroke-width="1.08"/>
<ellipse cx="351.7" cy="340.8" rx="1.3" ry="1.1" fill="#fff" stroke="#2a2a2a" stroke-width="0.94"/>
<polyline points="352.8,341.5 361.7,344.0" fill="none" stroke="#333" stroke-width="2.29"/>
<ellipse cx="367.5" cy="347.5" rx="1.3" ry="1.3" fill="#222" stroke="#2a2a2a" stroke-width="0.41"/>
<polyline points="362.0,344.5 366.5,347.0" fill="none" stroke="#2a2a2a" stroke-width="0.81"/>
<polyline points="368.5,348.0 374.0,350.8 385.0,336.7" fill="none" stroke="#2a2a2a" stroke-width="0.81"/>
<polyline points="417.8,337.8 411.0,343.0" fill="none" stroke="#333" stroke-width="2.29"/>
<ellipse cx="412.2" cy="350.6" rx="1.4" ry="1.9" fill="#fff" stroke="#2a2a2a" stroke-width="1.08"/>
<ellipse cx="409" cy="348" rx="1.0" ry="1.3" fill="#fff" stroke="#2a2a2a" stroke-width="0.94"/>
<polyline points="405.0,345.5 412.0,350.6" fill="none" stroke="#2a2a2a" stroke-width="0.81"/>
<ellipse cx="420.6" cy="352.8" rx="3.3" ry="4.5" fill="#fff" stroke="#2a2a2a" stroke-width="1.08"/>
<ellipse cx="421" cy="352.8" rx="1.8" ry="2.6" fill="#bbb" stroke="#2a2a2a" stroke-width="0.68"/>
<polygon points="425.6,358.5 425.6,357.8 425.7,357.1 425.7,356.3 425.9,355.6 426.0,354.9 426.2,354.2 426.4,353.5 426.7,352.9 427.0,352.3 427.3,351.7 427.6,351.1 428.0,350.6 428.3,350.2 428.7,349.8 429.1,349.5 429.6,349.2 430.0,349.0 430.4,348.8 430.8,348.7 431.3,348.7 431.7,348.7 432.1,348.8 432.5,348.9 436.5,350.9 436.9,351.1 437.2,351.4 437.6,351.7 437.9,352.1 438.2,352.6 438.5,353.1 438.7,353.6 438.9,354.2 439.1,354.8 439.2,355.4 439.3,356.1 439.4,356.8 439.4,357.5 439.4,358.2 439.3,358.9 439.3,359.7 439.1,360.4 439.0,361.1 438.8,361.8 438.6,362.5 438.3,363.1 438.0,363.7 437.7,364.3 437.4,364.9 437.0,365.4 436.7,365.8 436.3,366.2 435.9,366.5 435.4,366.8 435.0,367.0 434.6,367.2 434.2,367.3 433.7,367.3 433.3,367.3 432.9,367.2 432.5,367.1 428.5,365.1 428.1,364.9 427.8,364.6 427.4,364.3 427.1,363.9 426.8,363.4 426.5,362.9 426.3,362.4 426.1,361.8 425.9,361.2 425.8,360.6 425.7,359.9 425.6,359.2" fill="#d0d0d0" stroke="#2a2a2a" stroke-width="1.22"/>
<ellipse cx="434.5" cy="359" rx="4.8" ry="8.4" fill="#f2f2f2" stroke="#2a2a2a" stroke-width="1.22" transform="rotate(8 434.5 359)"/>
<ellipse cx="434.7" cy="359.2" rx="2.2" ry="3.8" fill="#fff" stroke="#2a2a2a" stroke-width="0.94" transform="rotate(8 434.7 359.2)"/>
<ellipse cx="434.8" cy="359.3" rx="0.8" ry="1.3" fill="#666" stroke="#2a2a2a" stroke-width="0.41"/>
<polyline points="424.0,355.0 429.0,357.5" fill="none" stroke="#2a2a2a" stroke-width="0.81"/>
<polyline points="437.0,361.5 450.0,367.8" fill="none" stroke="#2a2a2a" stroke-width="0.94"/>
<ellipse cx="441.7" cy="363.3" rx="1.2" ry="1.6" fill="#fff" stroke="#2a2a2a" stroke-width="0.94"/>
<ellipse cx="450" cy="367.8" rx="1.4" ry="1.4" fill="#222" stroke="#2a2a2a" stroke-width="0.41"/>
<text x="440.0" y="342.3" textLength="8.7" lengthAdjust="spacingAndGlyphs">144</text>
<polyline points="443.3,344.4 435.6,351.7" fill="none" stroke="#333" stroke-width="1.08"/>
<text x="450.0" y="350.1" textLength="8.7" lengthAdjust="spacingAndGlyphs">145</text>
<polyline points="451.7,352.0 447.8,356.7" fill="none" stroke="#333" stroke-width="1.08"/>
<text x="456.6" y="357.8" textLength="8.7" lengthAdjust="spacingAndGlyphs">146</text>
<polyline points="458.9,360.0 451.7,367.2" fill="none" stroke="#333" stroke-width="1.08"/>
<polygon points="436.3,328 456,337.1 439.4,374.9 419.3,366.1" fill="none" stroke="#2f9e3f" stroke-width="2.20" stroke-linejoin="miter"/>
<ellipse cx="536.5" cy="355.4" rx="2.2" ry="3.1" fill="#fff" stroke="#2a2a2a" stroke-width="1.35"/>
<ellipse cx="536.6" cy="355.5" rx="1.0" ry="1.5" fill="#fff" stroke="#2a2a2a" stroke-width="0.68"/>
<ellipse cx="544.2" cy="359.6" rx="3.6" ry="4.8" fill="#fff" stroke="#2a2a2a" stroke-width="1.08"/>
<ellipse cx="544.6" cy="359.6" rx="2" ry="2.8" fill="#bbb" stroke="#2a2a2a" stroke-width="0.68"/>
<polygon points="548.2,364.6 548.2,363.9 548.3,363.1 548.3,362.4 548.5,361.7 548.6,361.0 548.8,360.2 549.1,359.6 549.3,358.9 549.6,358.3 549.9,357.7 550.3,357.2 550.6,356.7 551.0,356.2 551.4,355.8 551.8,355.5 552.3,355.2 552.7,355.0 553.2,354.8 553.6,354.7 554.0,354.7 554.5,354.7 554.9,354.8 555.3,354.9 559.5,357.1 559.9,357.3 560.3,357.6 560.7,358.0 561.0,358.4 561.3,358.8 561.6,359.3 561.8,359.8 562.1,360.4 562.2,361.0 562.4,361.7 562.5,362.4 562.6,363.1 562.6,363.8 562.6,364.5 562.5,365.3 562.5,366.0 562.3,366.7 562.2,367.4 562.0,368.2 561.7,368.8 561.5,369.5 561.2,370.1 560.9,370.7 560.5,371.2 560.2,371.7 559.8,372.2 559.4,372.6 559.0,372.9 558.5,373.2 558.1,373.4 557.6,373.6 557.2,373.7 556.8,373.7 556.3,373.7 555.9,373.6 555.5,373.5 551.3,371.3 550.9,371.1 550.5,370.8 550.1,370.4 549.8,370.0 549.5,369.6 549.2,369.1 549.0,368.6 548.7,368.0 548.6,367.4 548.4,366.7 548.3,366.0 548.2,365.3" fill="#e0e0e0" stroke="#2a2a2a" stroke-width="1.22"/>
<ellipse cx="557.5" cy="365.3" rx="5.0" ry="8.5" fill="#f2f2f2" stroke="#2a2a2a" stroke-width="1.22" transform="rotate(8 557.5 365.3)"/>
<ellipse cx="557.7" cy="365.5" rx="2.3" ry="4.0" fill="#fff" stroke="#2a2a2a" stroke-width="0.94" transform="rotate(8 557.7 365.5)"/>
<ellipse cx="557.8" cy="365.6" rx="0.8" ry="1.3" fill="#666" stroke="#2a2a2a" stroke-width="0.41"/>
<polyline points="561.0,368.0 570.0,373.0" fill="none" stroke="#2a2a2a" stroke-width="0.94"/>
<ellipse cx="565" cy="370" rx="1.2" ry="1.7" fill="#fff" stroke="#2a2a2a" stroke-width="1.08"/>
<ellipse cx="569.9" cy="372.8" rx="1.5" ry="1.5" fill="#222" stroke="#2a2a2a" stroke-width="0.41"/>
<text x="518.2" y="369.9" textLength="8.7" lengthAdjust="spacingAndGlyphs">142</text>
<polyline points="525.4,362.4 534.4,357.5" fill="none" stroke="#333" stroke-width="1.08"/>
<text x="528.6" y="377.6" textLength="8.7" lengthAdjust="spacingAndGlyphs">143</text>
<polyline points="535.8,369.3 542.0,363.0" fill="none" stroke="#333" stroke-width="1.08"/>
<text x="538.4" y="383.8" textLength="8.7" lengthAdjust="spacingAndGlyphs">144</text>
<polyline points="545.6,375.6 551.8,369.3" fill="none" stroke="#333" stroke-width="1.08"/>
<text x="550.9" y="390.1" textLength="8.7" lengthAdjust="spacingAndGlyphs">145</text>
<polyline points="556.0,380.4 565.0,370.7" fill="none" stroke="#333" stroke-width="1.08"/>
<text x="566.9" y="396.3" textLength="8.7" lengthAdjust="spacingAndGlyphs">146</text>
<polyline points="571.2,388.0 570.6,374.2" fill="none" stroke="#333" stroke-width="1.08"/>
<polyline points="298.0,431.2 329.4,415.0" fill="none" stroke="#2a2a2a" stroke-width="1.22"/>
<polyline points="298.0,434.0 329.4,418.0" fill="none" stroke="#666" stroke-width="0.81"/>
<polyline points="298.5,444.6 322.5,433.2" fill="none" stroke="#2a2a2a" stroke-width="1.22"/>
<polyline points="286.5,447.8 332.2,471.1" fill="none" stroke="#2a2a2a" stroke-width="1.22"/>
<polyline points="297.2,453.3 331.0,470.6" fill="none" stroke="#2a2a2a" stroke-width="1.22"/>
<path d="M297.2,450.2 L316.7,445.6 L317.8,448.9 L304.4,456.7 Z" fill="#fff" stroke="#2a2a2a" stroke-width="1.08"/>
<ellipse cx="315.5" cy="447.5" rx="0.8" ry="0.8" fill="#fff" stroke="#2a2a2a" stroke-width="0.68"/>
<path d="M287.5,416 L287.5,403.2 L290,402.4 L294.4,405.3 L294.4,428" fill="#fff" stroke="#2a2a2a" stroke-width="1.08"/>
<polyline points="290.0,402.4 290.0,416.0" fill="none" stroke="#2a2a2a" stroke-width="0.81"/>
<path d="M275.7,433.5 C284,436 291,440 294.4,446" fill="none" stroke="#2a2a2a" stroke-width="1.22"/>
<path d="M277.5,432.8 C285.5,435 291.5,438.5 294.4,443" fill="none" stroke="#2a2a2a" stroke-width="0.81"/>
<path d="M263.5,425.5 L272,420 L291.5,415.5 L294.2,418 L294.2,429 L266.7,436 Z" fill="#fff" stroke="#2a2a2a" stroke-width="1.22"/>
<polyline points="266.7,428.0 273.5,422.5 294.2,418.0" fill="none" stroke="#2a2a2a" stroke-width="1.08"/>
<polyline points="266.7,428.0 266.7,436.0" fill="none" stroke="#2a2a2a" stroke-width="1.08"/>
<polyline points="272.0,420.0 273.5,422.5" fill="none" stroke="#2a2a2a" stroke-width="0.81"/>
<path d="M256.9,426.4 L256.9,435 C257.5,437.5 265.4,437.5 266,435 L266,426.4" fill="#fff" stroke="#2a2a2a" stroke-width="1.22"/>
<ellipse cx="261.45" cy="426.4" rx="4.55" ry="1.9" fill="#fff" stroke="#2a2a2a" stroke-width="1.22"/>
<ellipse cx="261.45" cy="426.4" rx="2.2" ry="0.9" fill="#fff" stroke="#2a2a2a" stroke-width="0.68"/>
<path d="M323.3,422.2 L325.5,420.5 L332.2,423.5 L332.2,440 L324.4,440 L322.5,462 " fill="#fff" stroke="#2a2a2a" stroke-width="1.08"/>
<polyline points="325.5,420.5 325.5,440.0" fill="none" stroke="#2a2a2a" stroke-width="0.81"/>
<path d="M324.4,440 L333,438.5 L335.6,441 L335.6,448.9 L327,450 L324.4,448 Z" fill="#fff" stroke="#2a2a2a" stroke-width="1.08"/>
<polyline points="327.0,441.5 327.0,450.0" fill="none" stroke="#2a2a2a" stroke-width="0.81"/>
<polyline points="327.0,441.5 335.6,441.0" fill="none" stroke="#2a2a2a" stroke-width="0.81"/>
<ellipse cx="329" cy="446" rx="1.2" ry="1.4" fill="#333" stroke="#2a2a2a" stroke-width="0.41"/>
<path d="M326.7,457.8 L326.7,465 C327.5,467.5 334.5,467.5 335.6,465 L335.6,457.8" fill="#fff" stroke="#2a2a2a" stroke-width="1.22"/>
<ellipse cx="331.1" cy="457.8" rx="4.4" ry="1.8" fill="#fff" stroke="#2a2a2a" stroke-width="1.22"/>
<ellipse cx="331.1" cy="457.6" rx="1.3" ry="0.7" fill="#333" stroke="#2a2a2a" stroke-width="0.41"/>
<polyline points="331.1,449.0 331.1,456.0" fill="none" stroke="#2a2a2a" stroke-width="1.22"/>
<path d="M324,447 C322.5,450 322.5,458 323.8,462" fill="none" stroke="#2a2a2a" stroke-width="0.94"/>
<polyline points="340.4,409.2 363.3,397.4 378.6,389.0 386.9,393.9 386.9,404.3 380.0,408.5 372.4,405.5" fill="none" stroke="#2a2a2a" stroke-width="1.22"/>
<polyline points="363.3,397.4 371.7,401.5 386.9,393.9" fill="none" stroke="#2a2a2a" stroke-width="1.22"/>
<polyline points="371.7,401.5 371.7,405.3" fill="none" stroke="#2a2a2a" stroke-width="1.22"/>
<polyline points="340.4,417.5 372.4,402.2" fill="none" stroke="#2a2a2a" stroke-width="1.22"/>
<polyline points="340.4,425.8 372.4,407.8" fill="none" stroke="#2a2a2a" stroke-width="1.22"/>
<ellipse cx="382" cy="404" rx="2.4" ry="2.6" fill="#333" stroke="#2a2a2a" stroke-width="0.68"/>
<ellipse cx="382.3" cy="404" rx="1" ry="1.2" fill="#888" stroke="#2a2a2a" stroke-width="0.41"/>
<ellipse cx="374.4" cy="398" rx="1.1" ry="1.1" fill="#fff" stroke="#2a2a2a" stroke-width="0.81"/>
<polyline points="340.4,448.8 402.2,415.4 416.1,408.5 424.4,413.3 424.4,425.8 420.3,428.6 409.2,427.5" fill="none" stroke="#2a2a2a" stroke-width="1.22"/>
<polyline points="402.2,415.4 409.2,420.3 424.4,413.3" fill="none" stroke="#2a2a2a" stroke-width="1.22"/>
<polyline points="409.2,420.3 409.2,428.0" fill="none" stroke="#2a2a2a" stroke-width="1.22"/>
<polyline points="340.4,458.5 409.2,421.7" fill="none" stroke="#2a2a2a" stroke-width="1.22"/>
<polyline points="333.3,471.7 409.2,428.6" fill="none" stroke="#2a2a2a" stroke-width="1.22"/>
<ellipse cx="419.4" cy="424.2" rx="2.6" ry="3.2" fill="#333" stroke="#2a2a2a" stroke-width="0.68"/>
<ellipse cx="419.7" cy="424.2" rx="1.1" ry="1.4" fill="#888" stroke="#2a2a2a" stroke-width="0.41"/>
<ellipse cx="412" cy="417.5" rx="1.1" ry="1.1" fill="#fff" stroke="#2a2a2a" stroke-width="0.81"/>
<polyline points="405.0,412.0 414.0,408.0" fill="none" stroke="#2a2a2a" stroke-width="0.81"/>
<ellipse cx="398.75" cy="411.8" rx="1.5" ry="1.9" fill="#fff" stroke="#2a2a2a" stroke-width="1.22"/>
<text x="404.1" y="398.0" textLength="8.7" lengthAdjust="spacingAndGlyphs">137</text>
<polyline points="405.7,399.4 400.0,409.6" fill="none" stroke="#333" stroke-width="1.08"/>
<polyline points="424.4,425.0 497.0,471.0" fill="none" stroke="#2a2a2a" stroke-width="0.81"/>
<ellipse cx="425" cy="427.5" rx="2.3" ry="3.3" fill="#222" stroke="#2a2a2a" stroke-width="0.54"/>
<ellipse cx="425.2" cy="427.5" rx="1.0" ry="1.6" fill="#ccc" stroke="#2a2a2a" stroke-width="0.41"/>
<ellipse cx="434.2" cy="432.5" rx="2.8" ry="4.3" fill="#fff" stroke="#2a2a2a" stroke-width="1.08"/>
<ellipse cx="434.5" cy="432.5" rx="1.3" ry="2.2" fill="#999" stroke="#2a2a2a" stroke-width="0.54"/>
<polygon points="436.7,435.6 436.7,435.0 436.8,434.5 436.9,434.0 436.9,433.5 437.1,433.1 437.2,432.7 437.4,432.3 437.6,432.0 437.8,431.6 438.0,431.4 438.3,431.1 438.6,431.0 438.9,430.8 439.2,430.7 439.5,430.7 439.8,430.7 440.1,430.8 440.5,430.9 440.8,431.0 441.1,431.2 448.6,436.2 448.9,436.4 449.2,436.7 449.5,437.0 449.8,437.4 450.1,437.8 450.4,438.2 450.6,438.7 450.9,439.2 451.1,439.7 451.2,440.2 451.4,440.7 451.5,441.3 451.6,441.8 451.7,442.3 451.7,442.9 451.8,443.4 451.8,444.0 451.7,444.5 451.6,445.0 451.6,445.5 451.4,445.9 451.3,446.3 451.1,446.7 450.9,447.0 450.7,447.4 450.5,447.6 450.2,447.9 449.9,448.0 449.6,448.2 449.3,448.3 449.0,448.3 448.7,448.3 448.4,448.2 448.0,448.1 447.7,448.0 447.4,447.8 439.9,442.8 439.6,442.6 439.3,442.3 439.0,442.0 438.7,441.6 438.4,441.2 438.1,440.8 437.9,440.3 437.6,439.8 437.4,439.3 437.3,438.8 437.1,438.3 437.0,437.7 436.9,437.2 436.8,436.7 436.8,436.1" fill="#fff" stroke="#2a2a2a" stroke-width="1.08"/>
<ellipse cx="448" cy="442" rx="3.6" ry="6.4" fill="#fff" stroke="#2a2a2a" stroke-width="1.08" transform="rotate(-12 448 442)"/>
<ellipse cx="448.6" cy="442.3" rx="1.7" ry="3.0" fill="#fff" stroke="#2a2a2a" stroke-width="0.81" transform="rotate(-12 448.6 442.3)"/>
<ellipse cx="455.8" cy="445.8" rx="2.8" ry="4.3" fill="#fff" stroke="#2a2a2a" stroke-width="1.08"/>
<ellipse cx="456.1" cy="445.8" rx="1.3" ry="2.2" fill="#999" stroke="#2a2a2a" stroke-width="0.54"/>
<ellipse cx="466.7" cy="452.5" rx="2.2" ry="3.0" fill="#222" stroke="#2a2a2a" stroke-width="0.54"/>
<ellipse cx="466.9" cy="452.5" rx="1.0" ry="1.5" fill="#ccc" stroke="#2a2a2a" stroke-width="0.41"/>
<path d="M473,454 L485.5,461 L483.5,465.2 L471,458.2 Z" fill="#fff" stroke="#2a2a2a" stroke-width="1.08"/>
<ellipse cx="472" cy="456.1" rx="1.3" ry="2.2" fill="#fff" stroke="#2a2a2a" stroke-width="0.94"/>
<ellipse cx="484.5" cy="463.1" rx="1.3" ry="2.2" fill="#fff" stroke="#2a2a2a" stroke-width="0.94"/>
<ellipse cx="490.8" cy="466.7" rx="1.5" ry="2.0" fill="#fff" stroke="#2a2a2a" stroke-width="1.22"/>
<text x="411.4" y="452.6" textLength="8.7" lengthAdjust="spacingAndGlyphs">135</text>
<polyline points="415.8,444.2 424.2,430.5" fill="none" stroke="#333" stroke-width="1.08"/>
<text x="420.6" y="458.4" textLength="8.7" lengthAdjust="spacingAndGlyphs">118</text>
<polyline points="425.0,450.0 432.5,435.5" fill="none" stroke="#333" stroke-width="1.08"/>
<text x="432.3" y="467.6" textLength="8.7" lengthAdjust="spacingAndGlyphs">134</text>
<polyline points="436.2,459.0 443.3,442.5" fill="none" stroke="#333" stroke-width="1.08"/>
<text x="445.6" y="473.4" textLength="8.7" lengthAdjust="spacingAndGlyphs">118</text>
<polyline points="448.3,465.0 455.0,448.5" fill="none" stroke="#333" stroke-width="1.08"/>
<text x="458.1" y="480.1" textLength="8.7" lengthAdjust="spacingAndGlyphs">135</text>
<polyline points="461.7,471.5 465.8,455.5" fill="none" stroke="#333" stroke-width="1.08"/>
<text x="472.3" y="492.6" textLength="8.7" lengthAdjust="spacingAndGlyphs">136</text>
<polyline points="477.5,484.0 480.8,465.0" fill="none" stroke="#333" stroke-width="1.08"/>
<text x="485.6" y="497.6" textLength="8.7" lengthAdjust="spacingAndGlyphs">137</text>
<polyline points="488.3,489.0 490.0,468.8" fill="none" stroke="#333" stroke-width="1.08"/>
<polyline points="333.0,452.0 369.5,481.8" fill="none" stroke="#2a2a2a" stroke-width="1.08" stroke-dasharray="3.5,2"/>
<polyline points="376.0,487.8 404.0,508.6" fill="none" stroke="#2a2a2a" stroke-width="1.08" stroke-dasharray="3,2"/>
<ellipse cx="372.6" cy="484.3" rx="3.6" ry="5.2" fill="#fff" stroke="#2a2a2a" stroke-width="1.08" transform="rotate(-15 372.6 484.3)"/>
<ellipse cx="372.8" cy="484.4" rx="1.6" ry="2.3" fill="#bbb" stroke="#2a2a2a" stroke-width="0.54"/>
<polyline points="365.7,491.2 367.5,489.5" fill="none" stroke="#222" stroke-width="2.97"/>
<path d="M383.5,491.5 L397,501.5 L394,506 L380.5,496 Z" fill="#fff" stroke="#2a2a2a" stroke-width="1.08"/>
<polyline points="385.0,495.0 394.0,502.0" fill="none" stroke="#777" stroke-width="0.68"/>
<ellipse cx="381.8" cy="493.8" rx="1.5" ry="2.6" fill="#fff" stroke="#2a2a2a" stroke-width="0.94" transform="rotate(-35 381.8 493.8)"/>
<ellipse cx="395.7" cy="503.9" rx="1.5" ry="2.6" fill="#333" stroke="#2a2a2a" stroke-width="0.68" transform="rotate(-35 395.7 503.9)"/>
<path d="M405.5,492.5 L405.5,501 L408,501 L408,492.5" fill="#fff" stroke="#2a2a2a" stroke-width="1.08"/>
<ellipse cx="406.7" cy="492.5" rx="1.3" ry="0.8" fill="#333" stroke="#2a2a2a" stroke-width="0.54"/>
<g transform="translate(406.5,512.5) rotate(-38)"><rect x="-10" y="-6.3" width="18" height="12.6" rx="2" fill="#222"/><rect x="-1.5" y="-6.3" width="3.2" height="12.6" fill="#fff" stroke="#222" stroke-width="0.81"/><ellipse cx="8" cy="0" rx="2.8" ry="6.3" fill="#3a3a3a" stroke="#222" stroke-width="0.81"/><ellipse cx="8.2" cy="0" rx="1.3" ry="3" fill="#555"/></g>
<polyline points="415.0,512.5 418.0,514.5" fill="none" stroke="#2a2a2a" stroke-width="1.08"/>
<text x="377.8" y="461.9" textLength="8.7" lengthAdjust="spacingAndGlyphs">133</text>
<polyline points="381.0,463.0 374.0,480.0" fill="none" stroke="#333" stroke-width="1.08"/>
<text x="396.6" y="480.8" textLength="8.7" lengthAdjust="spacingAndGlyphs">132</text>
<polyline points="399.7,482.0 392.0,497.5" fill="none" stroke="#333" stroke-width="1.08"/>
<text x="414.6" y="487.7" textLength="8.7" lengthAdjust="spacingAndGlyphs">131</text>
<polyline points="417.0,487.8 408.0,493.3" fill="none" stroke="#333" stroke-width="1.08"/>
<text x="423.6" y="506.4" textLength="8.7" lengthAdjust="spacingAndGlyphs">130</text>
<polyline points="422.6,504.5 415.0,510.0" fill="none" stroke="#333" stroke-width="1.08"/>
<text x="381.4" y="525.2" textLength="8.7" lengthAdjust="spacingAndGlyphs">129</text>
<polyline points="380.3,519.7 367.0,492.0" fill="none" stroke="#333" stroke-width="1.08"/>
<polyline points="168.0,434.0 240.0,495.0" fill="none" stroke="#2a2a2a" stroke-width="0.81"/>
<polygon points="167.5,431 171,430.5 173,433 172.5,436.5 169,437 167,434.5" fill="#fff" stroke="#333" stroke-width="1.22"/>
<ellipse cx="170.8" cy="433.8" rx="2.8" ry="2.6" fill="#ddd" stroke="#2a2a2a" stroke-width="0.68"/>
<ellipse cx="179.9" cy="439.4" rx="1.8" ry="2.4" fill="#333" stroke="#2a2a2a" stroke-width="0.68"/>
<ellipse cx="180" cy="439.4" rx="0.8" ry="1.1" fill="#ddd" stroke="#2a2a2a" stroke-width="0.41"/>
<path d="M186,444.5 L196.5,453.5 L194.5,457.5 L184,448.5 Z" fill="#fff" stroke="#2a2a2a" stroke-width="1.08"/>
<polyline points="186.0,446.5 195.0,454.5" fill="none" stroke="#888" stroke-width="0.68"/>
<ellipse cx="196" cy="456" rx="1.4" ry="2.0" fill="#333" stroke="#2a2a2a" stroke-width="0.54"/>
<ellipse cx="201.2" cy="456" rx="2.4" ry="3.4" fill="#fff" stroke="#2a2a2a" stroke-width="1.49" transform="rotate(23 201.2 456)"/>
<ellipse cx="201.2" cy="456" rx="1.08" ry="1.53" fill="#fff" stroke="#2a2a2a" stroke-width="0.94" transform="rotate(23 201.2 456)"/>
<polygon points="201.4,463.7 201.4,463.3 201.4,462.9 201.5,462.6 201.6,462.2 201.7,461.8 201.9,461.4 202.0,461.0 202.2,460.7 202.4,460.4 202.7,460.0 202.9,459.7 203.2,459.5 203.4,459.2 203.7,459.0 204.0,458.8 204.3,458.6 204.6,458.5 204.9,458.4 205.2,458.3 205.6,458.3 205.8,458.3 206.1,458.3 206.4,458.4 206.7,458.5 207.0,458.6 207.2,458.8 208.4,459.8 208.6,459.9 208.8,460.2 209.0,460.4 209.2,460.7 209.3,461.0 209.4,461.3 209.5,461.6 209.6,462.0 209.6,462.3 209.6,462.7 209.6,463.1 209.6,463.5 209.5,463.8 209.4,464.2 209.3,464.6 209.1,465.0 209.0,465.4 208.8,465.7 208.6,466.0 208.3,466.4 208.1,466.7 207.8,466.9 207.6,467.2 207.3,467.4 207.0,467.6 206.7,467.8 206.4,467.9 206.1,468.0 205.8,468.1 205.4,468.1 205.2,468.1 204.9,468.1 204.6,468.0 204.3,467.9 204.0,467.8 203.8,467.6 202.6,466.6 202.4,466.5 202.2,466.2 202.0,466.0 201.8,465.7 201.7,465.4 201.6,465.1 201.5,464.8 201.4,464.4 201.4,464.1" fill="#fff" stroke="#2a2a2a" stroke-width="1.08"/>
<ellipse cx="206.1" cy="463.7" rx="3.3" ry="4.6" fill="#fff" stroke="#2a2a2a" stroke-width="1.35" transform="rotate(23 206.1 463.7)"/>
<ellipse cx="206.1" cy="463.7" rx="1.815" ry="2.53" fill="#ccc" stroke="#2a2a2a" stroke-width="0.94" transform="rotate(23 206.1 463.7)"/>
<ellipse cx="206.1" cy="463.7" rx="0.825" ry="1.15" fill="#fff" stroke="#2a2a2a" stroke-width="0.68" transform="rotate(23 206.1 463.7)"/>
<polygon points="205.3,478.7 205.3,477.6 205.4,476.5 205.6,475.4 205.9,474.3 206.2,473.1 206.6,472.0 207.0,470.9 207.5,469.8 208.1,468.7 208.7,467.7 209.3,466.7 210.0,465.8 210.7,464.9 211.5,464.2 212.2,463.4 213.0,462.8 213.8,462.3 214.6,461.8 215.4,461.4 216.2,461.2 216.9,461.0 217.7,460.9 218.4,460.9 219.1,461.1 219.8,461.3 220.4,461.6 221.0,462.0 227.2,466.6 227.7,467.1 228.2,467.7 228.6,468.4 229.0,469.2 229.2,470.0 229.5,470.9 229.6,471.8 229.7,472.8 229.7,473.9 229.7,475.0 229.6,476.1 229.4,477.2 229.1,478.3 228.8,479.5 228.4,480.6 228.0,481.7 227.5,482.8 226.9,483.9 226.3,484.9 225.7,485.9 225.0,486.8 224.3,487.7 223.5,488.4 222.8,489.2 222.0,489.8 221.2,490.3 220.4,490.8 219.6,491.2 218.8,491.4 218.1,491.6 217.3,491.7 216.6,491.7 215.9,491.5 215.2,491.3 214.6,491.0 214.0,490.6 207.8,486.0 207.3,485.5 206.8,484.9 206.4,484.2 206.0,483.4 205.8,482.6 205.5,481.7 205.4,480.8 205.3,479.8" fill="#fff" stroke="#2a2a2a" stroke-width="1.22"/>
<ellipse cx="220.6" cy="478.6" rx="8.0" ry="13.8" fill="#fff" stroke="#2a2a2a" stroke-width="1.08" transform="rotate(23 220.6 478.6)"/>
<ellipse cx="220.6" cy="478.6" rx="6.88" ry="11.868" fill="none" stroke="#222" stroke-width="2.03" transform="rotate(23 220.6 478.6)"/>
<polyline points="222.2,479.3 226.5,481.1" fill="none" stroke="#2a2a2a" stroke-width="0.81"/>
<polyline points="221.3,480.7 223.2,486.2" fill="none" stroke="#2a2a2a" stroke-width="0.81"/>
<polyline points="220.2,481.4 219.1,488.9" fill="none" stroke="#2a2a2a" stroke-width="0.81"/>
<polyline points="219.2,481.3 215.5,488.3" fill="none" stroke="#2a2a2a" stroke-width="0.81"/>
<polyline points="218.6,480.3 213.5,484.6" fill="none" stroke="#2a2a2a" stroke-width="0.81"/>
<polyline points="218.7,478.7 213.7,479.1" fill="none" stroke="#2a2a2a" stroke-width="0.81"/>
<polyline points="219.4,477.2 216.2,473.3" fill="none" stroke="#2a2a2a" stroke-width="0.81"/>
<polyline points="220.4,476.0 220.0,469.3" fill="none" stroke="#2a2a2a" stroke-width="0.81"/>
<polyline points="221.5,475.7 224.0,468.2" fill="none" stroke="#2a2a2a" stroke-width="0.81"/>
<polyline points="222.4,476.3 227.0,470.4" fill="none" stroke="#2a2a2a" stroke-width="0.81"/>
<polyline points="222.6,477.7 227.9,475.2" fill="none" stroke="#2a2a2a" stroke-width="0.81"/>
<ellipse cx="220.6" cy="478.6" rx="2.24" ry="3.312" fill="#666" stroke="#2a2a2a" stroke-width="0.68" transform="rotate(23 220.6 478.6)"/>
<polygon points="228.6,489.0 228.6,488.6 228.6,488.2 228.7,487.9 228.8,487.5 228.9,487.1 229.1,486.7 229.2,486.3 229.4,486.0 229.6,485.7 229.9,485.3 230.1,485.0 230.4,484.8 230.6,484.5 230.9,484.3 231.2,484.1 231.5,483.9 231.8,483.8 232.1,483.7 232.4,483.6 232.8,483.6 233.0,483.6 233.3,483.6 233.6,483.7 233.9,483.8 234.2,483.9 234.4,484.1 235.6,485.1 235.8,485.2 236.0,485.5 236.2,485.7 236.4,486.0 236.5,486.3 236.6,486.6 236.7,486.9 236.8,487.3 236.8,487.6 236.8,488.0 236.8,488.4 236.8,488.8 236.7,489.1 236.6,489.5 236.5,489.9 236.3,490.3 236.2,490.7 236.0,491.0 235.8,491.3 235.5,491.7 235.3,492.0 235.0,492.2 234.8,492.5 234.5,492.7 234.2,492.9 233.9,493.1 233.6,493.2 233.3,493.3 233.0,493.4 232.6,493.4 232.4,493.4 232.1,493.4 231.8,493.3 231.5,493.2 231.2,493.1 231.0,492.9 229.8,491.9 229.6,491.8 229.4,491.5 229.2,491.3 229.0,491.0 228.9,490.7 228.8,490.4 228.7,490.1 228.6,489.7 228.6,489.4" fill="#fff" stroke="#2a2a2a" stroke-width="1.08"/>
<ellipse cx="233.3" cy="489" rx="3.3" ry="4.6" fill="#fff" stroke="#2a2a2a" stroke-width="1.35" transform="rotate(23 233.3 489)"/>
<ellipse cx="233.3" cy="489" rx="1.815" ry="2.53" fill="#ccc" stroke="#2a2a2a" stroke-width="0.94" transform="rotate(23 233.3 489)"/>
<ellipse cx="233.3" cy="489" rx="0.825" ry="1.15" fill="#fff" stroke="#2a2a2a" stroke-width="0.68" transform="rotate(23 233.3 489)"/>
<ellipse cx="240.1" cy="493.9" rx="2.4" ry="3.4" fill="#fff" stroke="#2a2a2a" stroke-width="1.49" transform="rotate(23 240.1 493.9)"/>
<ellipse cx="240.1" cy="493.9" rx="1.08" ry="1.53" fill="#fff" stroke="#2a2a2a" stroke-width="0.94" transform="rotate(23 240.1 493.9)"/>
<text x="150.2" y="448.7" textLength="8.7" lengthAdjust="spacingAndGlyphs">115</text>
<polyline points="158.5,442.4 168.2,435.6" fill="none" stroke="#333" stroke-width="1.08"/>
<text x="151.2" y="463.3" textLength="8.7" lengthAdjust="spacingAndGlyphs">116</text>
<polyline points="160.4,457.0 178.9,440.4" fill="none" stroke="#333" stroke-width="1.08"/>
<text x="158.1" y="476.9" textLength="8.7" lengthAdjust="spacingAndGlyphs">117</text>
<polyline points="165.3,467.6 186.7,448.2" fill="none" stroke="#333" stroke-width="1.08"/>
<text x="167.8" y="488.5" textLength="8.7" lengthAdjust="spacingAndGlyphs">118</text>
<polyline points="177.0,479.3 198.3,458.9" fill="none" stroke="#333" stroke-width="1.08"/>
<text x="173.6" y="498.3" textLength="8.7" lengthAdjust="spacingAndGlyphs">121</text>
<polyline points="182.8,489.0 205.1,466.7" fill="none" stroke="#333" stroke-width="1.08"/>
<text x="192.1" y="512.8" textLength="8.7" lengthAdjust="spacingAndGlyphs">120</text>
<polyline points="197.4,503.6 207.0,482.2" fill="none" stroke="#333" stroke-width="1.08"/>
<text x="207.7" y="529.4" textLength="8.7" lengthAdjust="spacingAndGlyphs">121</text>
<polyline points="214.9,520.1 231.4,491.9" fill="none" stroke="#333" stroke-width="1.08"/>
<text x="221.2" y="545.9" textLength="8.7" lengthAdjust="spacingAndGlyphs">118</text>
<polyline points="224.6,536.7 239.2,495.8" fill="none" stroke="#333" stroke-width="1.08"/>
<text x="234.8" y="557.6" textLength="8.7" lengthAdjust="spacingAndGlyphs">122</text>
<polyline points="241.1,546.4 264.4,519.2" fill="none" stroke="#333" stroke-width="1.08"/>
<path d="M237.6,503.8 L268.9,493.3 L270.6,495.8 L270.6,500.6 L242.9,513.5 L237.6,509.1 Z" fill="#fff" stroke="#2a2a2a" stroke-width="1.22"/>
<polyline points="237.6,503.8 242.4,506.8 270.6,495.8" fill="none" stroke="#2a2a2a" stroke-width="1.08"/>
<polyline points="242.4,506.8 242.9,513.5" fill="none" stroke="#2a2a2a" stroke-width="1.08"/>
<path d="M254.5,479.8 C253.4,485.8 252.9,491.8 248.9,498.8 L253.9,501.8 L266.9,494.3 L268.5,480.6 Z" fill="#fff" stroke="#2a2a2a" stroke-width="1.22"/>
<path d="M259.4,482.8 C258.4,489.8 256.9,495.8 253.9,501.8" fill="none" stroke="#2a2a2a" stroke-width="1.08"/>
<path d="M254.5,479.8 L259.4,482.8 L268.5,480.6" fill="none" stroke="#2a2a2a" stroke-width="0.81"/>
<ellipse cx="261.4" cy="480.0" rx="7" ry="2.6" fill="#fff" stroke="#2a2a2a" stroke-width="1.22"/>
<ellipse cx="261.4" cy="480.2" rx="4" ry="1.4" fill="#fff" stroke="#2a2a2a" stroke-width="0.68"/>
<ellipse cx="250.39999999999998" cy="502.3" rx="1.0" ry="1.2" fill="#fff" stroke="#2a2a2a" stroke-width="0.81"/>
<rect x="259.7" y="467.8" width="4.4" height="10.5" fill="#fff" stroke="#2a2a2a" stroke-width="1.22"/>
<polyline points="253.3,506.7 262.5,514.0" fill="none" stroke="#2a2a2a" stroke-width="0.81"/>
<polyline points="262.5,514.0 268.3,518.8" fill="none" stroke="#333" stroke-width="2.70"/>
<ellipse cx="268.9" cy="519.3" rx="1.2" ry="1.6" fill="#fff" stroke="#2a2a2a" stroke-width="1.08" transform="rotate(-40 268.9 519.3)"/>
<text x="237.1" y="380.2" textLength="8.7" lengthAdjust="spacingAndGlyphs">109</text>
<polyline points="247.2,378.2 259.5,378.6" fill="none" stroke="#333" stroke-width="1.08"/>
<text x="237.1" y="392.8" textLength="8.7" lengthAdjust="spacingAndGlyphs">110</text>
<polyline points="247.2,390.3 259.0,391.2" fill="none" stroke="#333" stroke-width="1.08"/>
<text x="237.1" y="406.4" textLength="8.7" lengthAdjust="spacingAndGlyphs">111</text>
<polyline points="247.2,403.5 257.0,402.5" fill="none" stroke="#333" stroke-width="1.08"/>
<text x="237.1" y="421.0" textLength="8.7" lengthAdjust="spacingAndGlyphs">112</text>
<polyline points="247.2,417.6 258.5,416.8" fill="none" stroke="#333" stroke-width="1.08"/>
<text x="237.1" y="448.3" textLength="8.7" lengthAdjust="spacingAndGlyphs">113</text>
<polyline points="247.2,445.4 258.5,449.5" fill="none" stroke="#333" stroke-width="1.08"/>
<text x="237.1" y="468.7" textLength="8.7" lengthAdjust="spacingAndGlyphs">114</text>
<polyline points="247.2,465.5 259.5,466.2" fill="none" stroke="#333" stroke-width="1.08"/>
<rect x="259.6" y="375.8" width="3.8" height="3.8" rx="0.8" fill="#fff" stroke="#333" stroke-width="1.08"/>
<polyline points="261.5,379.8 261.5,384.6" fill="none" stroke="#333" stroke-width="2.70"/>
<polyline points="261.5,385.0 261.5,389.0" fill="none" stroke="#2a2a2a" stroke-width="0.81"/>
<ellipse cx="261.5" cy="390.6" rx="2.2" ry="2.2" fill="#222" stroke="#2a2a2a" stroke-width="0.41"/>
<polyline points="261.5,393.0 261.5,400.0" fill="none" stroke="#2a2a2a" stroke-width="0.81"/>
<ellipse cx="261.5" cy="401.6" rx="5.2" ry="2.6" fill="#fff" stroke="#2a2a2a" stroke-width="1.35"/>
<ellipse cx="261.5" cy="401.3" rx="1.5" ry="0.7" fill="#444" stroke="#2a2a2a" stroke-width="0.41"/>
<polyline points="261.5,403.8 261.5,414.0" fill="none" stroke="#2a2a2a" stroke-width="0.81"/>
<ellipse cx="261.5" cy="416.3" rx="2.8" ry="3.0" fill="#333" stroke="#2a2a2a" stroke-width="0.68"/>
<ellipse cx="261.5" cy="416.3" rx="1.1" ry="1.2" fill="#999" stroke="#2a2a2a" stroke-width="0.41"/>
<polyline points="261.5,419.5 261.5,426.0" fill="none" stroke="#2a2a2a" stroke-width="0.81"/>
<polyline points="261.5,437.0 261.5,447.0" fill="none" stroke="#2a2a2a" stroke-width="0.81"/>
<ellipse cx="261.5" cy="449.7" rx="2.8" ry="3.0" fill="#333" stroke="#2a2a2a" stroke-width="0.68"/>
<ellipse cx="261.5" cy="449.7" rx="1.1" ry="1.2" fill="#999" stroke="#2a2a2a" stroke-width="0.41"/>
<polyline points="261.5,453.0 261.5,464.5" fill="none" stroke="#2a2a2a" stroke-width="0.81"/>
<ellipse cx="261.5" cy="466.2" rx="1.6" ry="1.6" fill="#222" stroke="#2a2a2a" stroke-width="0.41"/>
<polyline points="331.4,470.0 331.4,492.6 309.0,502.4" fill="none" stroke="#2a2a2a" stroke-width="1.08" stroke-dasharray="3,2"/>
<polyline points="309.0,502.4 309.0,509.5" fill="none" stroke="#2a2a2a" stroke-width="0.81"/>
<ellipse cx="309" cy="512.1" rx="2.6" ry="2.6" fill="#222" stroke="#2a2a2a" stroke-width="0.41"/>
<ellipse cx="309" cy="518.9" rx="4.2" ry="1.9" fill="#fff" stroke="#2a2a2a" stroke-width="1.08"/>
<ellipse cx="309" cy="518.7" rx="1.3" ry="0.6" fill="#555" stroke="#2a2a2a" stroke-width="0.41"/>
<ellipse cx="309" cy="526.7" rx="2.8" ry="3.0" fill="#333" stroke="#2a2a2a" stroke-width="0.68"/>
<ellipse cx="309" cy="526.7" rx="1.1" ry="1.2" fill="#999" stroke="#2a2a2a" stroke-width="0.41"/>
<ellipse cx="309" cy="534.4" rx="2.8" ry="3.0" fill="#333" stroke="#2a2a2a" stroke-width="0.68"/>
<ellipse cx="309" cy="534.4" rx="1.1" ry="1.2" fill="#999" stroke="#2a2a2a" stroke-width="0.41"/>
<text x="286.2" y="491.2" textLength="8.7" lengthAdjust="spacingAndGlyphs">119</text>
<polyline points="293.0,492.0 307.5,509.5" fill="none" stroke="#333" stroke-width="1.08"/>
<text x="287.1" y="505.8" textLength="8.7" lengthAdjust="spacingAndGlyphs">111</text>
<polyline points="294.0,506.0 306.0,517.5" fill="none" stroke="#333" stroke-width="1.08"/>
<text x="286.6" y="518.4" textLength="8.7" lengthAdjust="spacingAndGlyphs">112</text>
<polyline points="294.0,518.5 306.5,525.5" fill="none" stroke="#333" stroke-width="1.08"/>
<text x="285.2" y="541.7" textLength="8.7" lengthAdjust="spacingAndGlyphs">113</text>
<polyline points="295.2,538.3 306.5,535.0" fill="none" stroke="#333" stroke-width="1.08"/>
<path d="M285.0,576.7 L316.3,566.2 L318.0,568.7 L318.0,573.5 L290.3,586.4 L285.0,582.0 Z" fill="#fff" stroke="#2a2a2a" stroke-width="1.22"/>
<polyline points="285.0,576.7 289.8,579.7 318.0,568.7" fill="none" stroke="#2a2a2a" stroke-width="1.08"/>
<polyline points="289.8,579.7 290.3,586.4" fill="none" stroke="#2a2a2a" stroke-width="1.08"/>
<path d="M301.9,552.7 C300.8,558.7 300.3,564.7 296.3,571.7 L301.3,574.7 L314.3,567.2 L315.9,553.5 Z" fill="#fff" stroke="#2a2a2a" stroke-width="1.22"/>
<path d="M306.8,555.7 C305.8,562.7 304.3,568.7 301.3,574.7" fill="none" stroke="#2a2a2a" stroke-width="1.08"/>
<path d="M301.9,552.7 L306.8,555.7 L315.9,553.5" fill="none" stroke="#2a2a2a" stroke-width="0.81"/>
<ellipse cx="308.8" cy="552.9000000000001" rx="7" ry="2.6" fill="#fff" stroke="#2a2a2a" stroke-width="1.22"/>
<ellipse cx="308.8" cy="553.1" rx="4" ry="1.4" fill="#fff" stroke="#2a2a2a" stroke-width="0.68"/>
<ellipse cx="297.8" cy="575.2" rx="1.0" ry="1.2" fill="#fff" stroke="#2a2a2a" stroke-width="0.81"/>
<rect x="307.1" y="540.7" width="4.4" height="10.5" fill="#fff" stroke="#2a2a2a" stroke-width="1.22"/>
<text x="245.3" y="585.5" textLength="8.7" lengthAdjust="spacingAndGlyphs">122</text>
<polyline points="255.6,580.1 283.7,565.6" fill="none" stroke="#333" stroke-width="1.08"/>
<text x="258.0" y="605.9" textLength="8.7" lengthAdjust="spacingAndGlyphs">123</text>
<polyline points="265.3,597.6 286.7,585.0" fill="none" stroke="#333" stroke-width="1.08"/>
<polyline points="300.8,579.0 288.6,569.9" fill="none" stroke="#2a2a2a" stroke-width="0.81"/>
<polyline points="288.6,569.9 284.4,565.2" fill="none" stroke="#333" stroke-width="2.70"/>
<ellipse cx="283.8" cy="564.5" rx="1.2" ry="1.6" fill="#fff" stroke="#2a2a2a" stroke-width="1.08" transform="rotate(-40 283.8 564.5)"/>
<rect x="332.6" y="523.2" width="4.2" height="5" rx="1.2" fill="#fff" stroke="#333" stroke-width="1.08"/>
<polyline points="334.7,528.5 334.7,540.0" fill="none" stroke="#2a2a2a" stroke-width="0.81"/>
<ellipse cx="334.7" cy="542.2" rx="2.2" ry="2.2" fill="#222" stroke="#2a2a2a" stroke-width="0.41"/>
<polyline points="334.7,544.5 334.7,552.0" fill="none" stroke="#2a2a2a" stroke-width="0.81" stroke-dasharray="2,1.5"/>
<rect x="333.2" y="552.8" width="3" height="6.2" fill="#fff" stroke="#333" stroke-width="1.08"/>
<polyline points="334.7,559.0 334.7,567.0" fill="none" stroke="#2a2a2a" stroke-width="0.81" stroke-dasharray="2,1.5"/>
<rect x="333" y="568.5" width="3.4" height="10.5" rx="1" fill="#333"/>
<polyline points="333.2,570.5 336.2,569.9" fill="none" stroke="#bbb" stroke-width="0.68"/>
<polyline points="333.2,573.0 336.2,572.4" fill="none" stroke="#bbb" stroke-width="0.68"/>
<polyline points="333.2,575.5 336.2,574.9" fill="none" stroke="#bbb" stroke-width="0.68"/>
<polyline points="333.2,578.0 336.2,577.4" fill="none" stroke="#bbb" stroke-width="0.68"/>
<path d="M331.8,587 L334,583.5 L337,583.8 L342.2,588.5 L341,593 L337,592.8 Z" fill="#fff" stroke="#2a2a2a" stroke-width="1.08"/>
<polyline points="334.0,583.5 332.5,588.0 337.0,592.8" fill="none" stroke="#2a2a2a" stroke-width="0.81"/>
<ellipse cx="334.8" cy="585.6" rx="1.8" ry="1.8" fill="#222" stroke="#2a2a2a" stroke-width="0.41"/>
<text x="354.4" y="528.0" textLength="8.7" lengthAdjust="spacingAndGlyphs">128</text>
<polyline points="354.6,525.3 337.0,526.0" fill="none" stroke="#333" stroke-width="1.08"/>
<text x="353.2" y="560.2" textLength="8.7" lengthAdjust="spacingAndGlyphs">127</text>
<polyline points="353.0,553.5 336.5,543.5" fill="none" stroke="#333" stroke-width="1.08"/>
<text x="356.2" y="578.7" textLength="8.7" lengthAdjust="spacingAndGlyphs">126</text>
<polyline points="357.0,571.5 336.5,556.5" fill="none" stroke="#333" stroke-width="1.08"/>
<text x="358.1" y="595.2" textLength="8.7" lengthAdjust="spacingAndGlyphs">125</text>
<polyline points="358.5,588.0 336.5,573.5" fill="none" stroke="#333" stroke-width="1.08"/>
<text x="362.0" y="616.6" textLength="8.7" lengthAdjust="spacingAndGlyphs">124</text>
<polyline points="362.0,609.0 338.5,589.0" fill="none" stroke="#333" stroke-width="1.08"/>
<polyline points="303.0,584.0 390.0,656.0" fill="none" stroke="#2a2a2a" stroke-width="0.81"/>
<ellipse cx="307" cy="586.4" rx="3.0" ry="4.2" fill="#fff" stroke="#2a2a2a" stroke-width="1.49" transform="rotate(23 307 586.4)"/>
<ellipse cx="307" cy="586.4" rx="1.35" ry="1.8900000000000001" fill="#fff" stroke="#2a2a2a" stroke-width="0.94" transform="rotate(23 307 586.4)"/>
<polygon points="314.9,596.2 314.9,595.8 314.9,595.4 315.0,595.1 315.1,594.7 315.2,594.3 315.4,593.9 315.5,593.5 315.7,593.2 315.9,592.9 316.2,592.5 316.4,592.2 316.7,592.0 316.9,591.7 317.2,591.5 317.5,591.3 317.8,591.1 318.1,591.0 318.4,590.9 318.7,590.8 319.1,590.8 319.3,590.8 319.6,590.8 319.9,590.9 320.2,591.0 320.5,591.1 320.7,591.3 321.9,592.3 322.1,592.4 322.3,592.7 322.5,592.9 322.7,593.2 322.8,593.5 322.9,593.8 323.0,594.1 323.1,594.5 323.1,594.8 323.1,595.2 323.1,595.6 323.1,596.0 323.0,596.3 322.9,596.7 322.8,597.1 322.6,597.5 322.5,597.9 322.3,598.2 322.1,598.5 321.8,598.9 321.6,599.2 321.3,599.4 321.1,599.7 320.8,599.9 320.5,600.1 320.2,600.3 319.9,600.4 319.6,600.5 319.3,600.6 318.9,600.6 318.7,600.6 318.4,600.6 318.1,600.5 317.8,600.4 317.5,600.3 317.3,600.1 316.1,599.1 315.9,599.0 315.7,598.7 315.5,598.5 315.3,598.2 315.2,597.9 315.1,597.6 315.0,597.3 314.9,596.9 314.9,596.6" fill="#fff" stroke="#2a2a2a" stroke-width="1.08"/>
<ellipse cx="319.6" cy="596.2" rx="3.3" ry="4.6" fill="#fff" stroke="#2a2a2a" stroke-width="1.35" transform="rotate(23 319.6 596.2)"/>
<ellipse cx="319.6" cy="596.2" rx="1.815" ry="2.53" fill="#ccc" stroke="#2a2a2a" stroke-width="0.94" transform="rotate(23 319.6 596.2)"/>
<ellipse cx="319.6" cy="596.2" rx="0.825" ry="1.15" fill="#fff" stroke="#2a2a2a" stroke-width="0.68" transform="rotate(23 319.6 596.2)"/>
<polygon points="321.7,611.0 321.7,609.9 321.9,608.8 322.1,607.7 322.3,606.6 322.7,605.5 323.1,604.4 323.5,603.3 324.0,602.2 324.6,601.2 325.2,600.2 325.9,599.2 326.5,598.3 327.3,597.5 328.0,596.7 328.8,596.1 329.6,595.5 330.4,594.9 331.2,594.5 332.0,594.2 332.8,593.9 333.6,593.8 334.4,593.7 335.1,593.8 335.9,593.9 336.5,594.2 337.2,594.5 337.7,594.9 343.9,599.5 344.5,600.1 345.0,600.7 345.4,601.3 345.7,602.1 346.0,602.9 346.3,603.8 346.4,604.8 346.5,605.8 346.5,606.8 346.5,607.9 346.3,609.0 346.1,610.1 345.9,611.2 345.5,612.3 345.1,613.4 344.7,614.5 344.2,615.6 343.6,616.6 343.0,617.6 342.3,618.6 341.7,619.5 340.9,620.3 340.2,621.1 339.4,621.7 338.6,622.3 337.8,622.9 337.0,623.3 336.2,623.6 335.4,623.9 334.6,624.0 333.8,624.1 333.1,624.0 332.3,623.9 331.7,623.6 331.0,623.3 330.5,622.9 324.3,618.3 323.7,617.7 323.2,617.1 322.8,616.5 322.5,615.7 322.2,614.9 321.9,614.0 321.8,613.0 321.7,612.0" fill="#fff" stroke="#2a2a2a" stroke-width="1.22"/>
<ellipse cx="337.2" cy="611.2" rx="8.2" ry="13.6" fill="#fff" stroke="#2a2a2a" stroke-width="1.08" transform="rotate(24 337.2 611.2)"/>
<ellipse cx="337.2" cy="611.2" rx="7.052" ry="11.696" fill="none" stroke="#222" stroke-width="2.03" transform="rotate(24 337.2 611.2)"/>
<polyline points="338.8,611.9 343.2,613.9" fill="none" stroke="#2a2a2a" stroke-width="0.81"/>
<polyline points="337.9,613.3 339.8,618.8" fill="none" stroke="#2a2a2a" stroke-width="0.81"/>
<polyline points="336.8,614.0 335.7,621.3" fill="none" stroke="#2a2a2a" stroke-width="0.81"/>
<polyline points="335.8,613.8 332.0,620.7" fill="none" stroke="#2a2a2a" stroke-width="0.81"/>
<polyline points="335.2,612.8 329.9,617.0" fill="none" stroke="#2a2a2a" stroke-width="0.81"/>
<polyline points="335.3,611.3 330.2,611.4" fill="none" stroke="#2a2a2a" stroke-width="0.81"/>
<polyline points="336.0,609.7 332.7,605.8" fill="none" stroke="#2a2a2a" stroke-width="0.81"/>
<polyline points="337.0,608.7 336.6,601.9" fill="none" stroke="#2a2a2a" stroke-width="0.81"/>
<polyline points="338.2,608.4 340.7,601.0" fill="none" stroke="#2a2a2a" stroke-width="0.81"/>
<polyline points="339.0,609.0 343.7,603.3" fill="none" stroke="#2a2a2a" stroke-width="0.81"/>
<polyline points="339.2,610.3 344.6,608.1" fill="none" stroke="#2a2a2a" stroke-width="0.81"/>
<ellipse cx="337.2" cy="611.2" rx="2.296" ry="3.264" fill="#666" stroke="#2a2a2a" stroke-width="0.68" transform="rotate(24 337.2 611.2)"/>
<polygon points="346.0,622.5 346.0,622.1 346.0,621.7 346.1,621.4 346.2,621.0 346.3,620.6 346.5,620.2 346.6,619.8 346.8,619.5 347.0,619.2 347.3,618.8 347.5,618.5 347.8,618.3 348.0,618.0 348.3,617.8 348.6,617.6 348.9,617.4 349.2,617.3 349.5,617.2 349.8,617.1 350.2,617.1 350.4,617.1 350.7,617.1 351.0,617.2 351.3,617.3 351.6,617.4 351.8,617.6 353.0,618.6 353.2,618.7 353.4,619.0 353.6,619.2 353.8,619.5 353.9,619.8 354.0,620.1 354.1,620.4 354.2,620.8 354.2,621.1 354.2,621.5 354.2,621.9 354.2,622.3 354.1,622.6 354.0,623.0 353.9,623.4 353.7,623.8 353.6,624.2 353.4,624.5 353.2,624.8 352.9,625.2 352.7,625.5 352.4,625.7 352.2,626.0 351.9,626.2 351.6,626.4 351.3,626.6 351.0,626.7 350.7,626.8 350.4,626.9 350.0,626.9 349.8,626.9 349.5,626.9 349.2,626.8 348.9,626.7 348.6,626.6 348.4,626.4 347.2,625.4 347.0,625.3 346.8,625.0 346.6,624.8 346.4,624.5 346.3,624.2 346.2,623.9 346.1,623.6 346.0,623.2 346.0,622.9" fill="#fff" stroke="#2a2a2a" stroke-width="1.08"/>
<ellipse cx="350.7" cy="622.5" rx="3.3" ry="4.6" fill="#fff" stroke="#2a2a2a" stroke-width="1.35" transform="rotate(23 350.7 622.5)"/>
<ellipse cx="350.7" cy="622.5" rx="1.815" ry="2.53" fill="#ccc" stroke="#2a2a2a" stroke-width="0.94" transform="rotate(23 350.7 622.5)"/>
<ellipse cx="350.7" cy="622.5" rx="0.825" ry="1.15" fill="#fff" stroke="#2a2a2a" stroke-width="0.68" transform="rotate(23 350.7 622.5)"/>
<ellipse cx="358.5" cy="628.3" rx="2.4" ry="3.4" fill="#fff" stroke="#2a2a2a" stroke-width="1.49" transform="rotate(23 358.5 628.3)"/>
<ellipse cx="358.5" cy="628.3" rx="1.08" ry="1.53" fill="#fff" stroke="#2a2a2a" stroke-width="0.94" transform="rotate(23 358.5 628.3)"/>
<path d="M364.5,630 L374.5,638 L372.5,642 L362.5,634 Z" fill="#fff" stroke="#2a2a2a" stroke-width="1.08"/>
<polyline points="365.0,632.0 373.0,639.0" fill="none" stroke="#888" stroke-width="0.68"/>
<ellipse cx="373.5" cy="640" rx="1.2" ry="2.0" fill="#333" stroke="#2a2a2a" stroke-width="0.54"/>
<ellipse cx="378.9" cy="645.8" rx="1.8" ry="2.4" fill="#333" stroke="#2a2a2a" stroke-width="0.68"/>
<ellipse cx="379" cy="645.8" rx="0.8" ry="1.1" fill="#ddd" stroke="#2a2a2a" stroke-width="0.41"/>
<polygon points="385,651 388.5,650.5 390.5,653 390,656.5 386.5,657 384.5,654.5" fill="#fff" stroke="#333" stroke-width="1.22"/>
<ellipse cx="388" cy="653.8" rx="2.8" ry="2.6" fill="#ddd" stroke="#2a2a2a" stroke-width="0.68"/>
<text x="275.3" y="622.0" textLength="8.7" lengthAdjust="spacingAndGlyphs">118</text>
<polyline points="281.7,611.8 306.0,588.5" fill="none" stroke="#333" stroke-width="1.08"/>
<text x="288.9" y="637.6" textLength="8.7" lengthAdjust="spacingAndGlyphs">121</text>
<polyline points="295.3,628.3 317.6,599.2" fill="none" stroke="#333" stroke-width="1.08"/>
<text x="305.5" y="652.1" textLength="8.7" lengthAdjust="spacingAndGlyphs">120</text>
<polyline points="311.8,642.9 324.4,618.6" fill="none" stroke="#333" stroke-width="1.08"/>
<text x="323.9" y="663.8" textLength="8.7" lengthAdjust="spacingAndGlyphs">121</text>
<polyline points="332.2,656.5 348.8,625.4" fill="none" stroke="#333" stroke-width="1.08"/>
<text x="332.8" y="677.4" textLength="8.7" lengthAdjust="spacingAndGlyphs">118</text>
<polyline points="342.0,667.2 357.5,630.3" fill="none" stroke="#333" stroke-width="1.08"/>
<text x="346.3" y="682.3" textLength="8.7" lengthAdjust="spacingAndGlyphs">117</text>
<polyline points="352.6,673.0 365.3,637.1" fill="none" stroke="#333" stroke-width="1.08"/>
<text x="361.8" y="691.0" textLength="8.7" lengthAdjust="spacingAndGlyphs">116</text>
<polyline points="367.2,681.8 377.9,647.8" fill="none" stroke="#333" stroke-width="1.08"/>
<text x="381.3" y="690.1" textLength="8.7" lengthAdjust="spacingAndGlyphs">115</text>
<polyline points="384.7,680.8 386.7,657.5" fill="none" stroke="#333" stroke-width="1.08"/>
</svg>
</body></html>
